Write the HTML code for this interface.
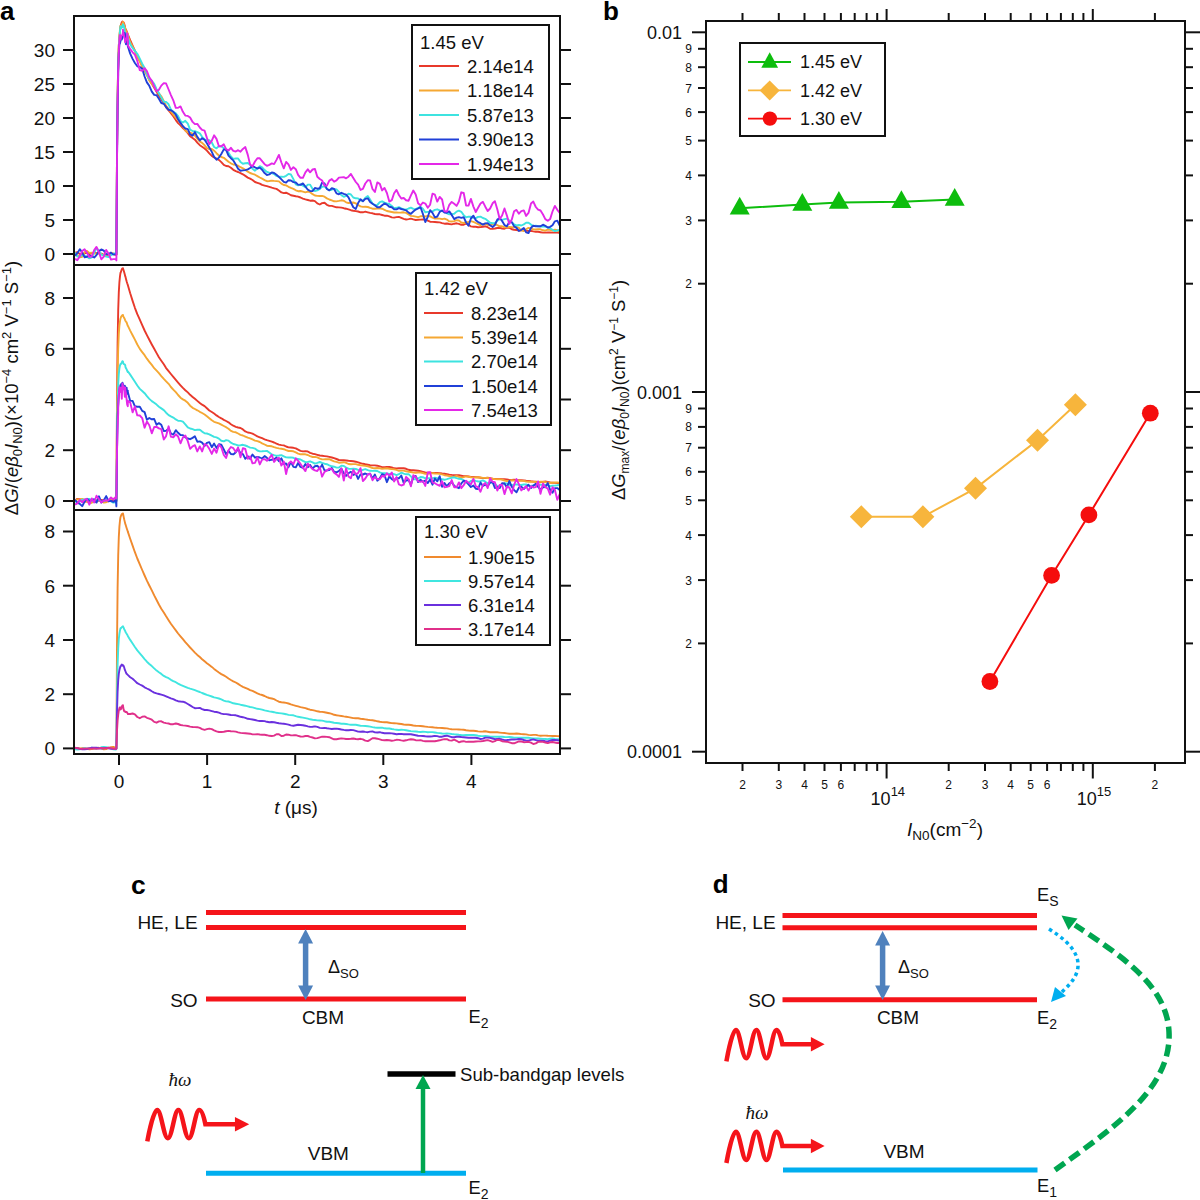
<!DOCTYPE html>
<html><head><meta charset="utf-8"><style>
html,body{margin:0;padding:0;background:#fff;width:1200px;height:1200px;overflow:hidden}
svg{display:block;font-family:"Liberation Sans", sans-serif}
</style></head><body>
<svg width="1200" height="1200" viewBox="0 0 1200 1200">
<rect width="1200" height="1200" fill="#fff"/>
<g clip-path="url(#clipA)">
<clipPath id="clipA"><rect x="75" y="17" width="484" height="735"/></clipPath>
<path d="M75.0,252.7 L77.3,252.1 L79.8,253.9 L82.2,255.1 L84.6,253.2 L87.0,252.9 L89.3,254.0 L91.8,253.2 L94.2,252.7 L96.5,253.2 L99.0,253.3 L101.3,253.7 L103.8,254.9 L106.2,255.3 L108.5,254.4 L111.0,253.4 L113.3,253.7 L115.8,255.1 L116.4,254.6 L117.0,153.7 L117.6,96.5 L118.2,64.1 L118.2,63.1 L118.8,45.5 L119.4,37.0 L120.0,31.2 L120.5,26.8 L120.6,26.2 L121.2,24.1 L121.8,22.3 L122.4,21.5 L123.0,22.2 L123.0,22.1 L123.6,22.3 L124.2,23.8 L124.8,26.0 L125.3,28.4 L125.4,28.9 L126.0,29.7 L126.6,31.1 L127.2,33.2 L127.8,34.6 L127.8,34.4 L130.2,40.2 L132.6,45.6 L134.9,50.6 L137.3,56.0 L139.8,61.1 L142.2,65.4 L144.6,69.8 L146.9,74.9 L149.3,79.7 L151.8,83.7 L154.2,87.7 L156.6,91.8 L158.9,95.8 L161.3,99.2 L163.8,103.1 L166.1,107.3 L168.6,110.3 L170.9,113.1 L173.3,116.3 L175.8,120.1 L178.1,123.1 L180.5,125.4 L182.9,128.0 L185.3,130.3 L187.8,133.1 L190.1,136.2 L192.6,138.0 L194.9,139.7 L197.3,142.7 L199.8,145.2 L202.1,146.7 L204.6,148.5 L206.9,150.6 L209.3,153.4 L211.8,155.9 L214.1,157.4 L216.5,158.6 L218.9,159.9 L221.3,162.1 L223.8,164.8 L226.1,166.0 L228.5,166.3 L230.9,167.7 L233.3,169.8 L235.8,171.1 L238.1,172.0 L240.5,173.1 L242.9,174.3 L245.3,175.9 L247.8,177.6 L250.1,178.6 L252.5,180.0 L255.0,182.0 L257.4,182.8 L259.8,183.6 L262.1,184.9 L264.6,185.6 L266.9,186.2 L269.3,186.9 L271.8,187.7 L274.1,188.3 L276.5,188.9 L278.9,190.5 L281.4,192.4 L283.8,193.1 L286.1,192.7 L288.5,193.8 L290.9,195.2 L293.4,195.7 L295.8,196.2 L298.1,196.6 L300.5,197.5 L302.9,198.6 L305.4,199.4 L307.8,200.0 L310.1,200.7 L312.6,200.5 L314.9,201.1 L317.3,203.4 L319.8,204.5 L322.1,203.1 L324.5,202.7 L326.9,204.8 L329.3,205.9 L331.8,205.9 L334.1,206.6 L336.5,207.3 L338.9,207.4 L341.4,207.6 L343.8,208.2 L346.1,208.7 L348.5,209.4 L350.9,210.2 L353.3,210.7 L355.8,211.1 L358.1,211.5 L360.5,212.3 L362.9,212.3 L365.3,211.7 L367.8,212.3 L370.1,212.9 L372.5,213.3 L374.9,214.0 L377.3,214.3 L379.8,214.3 L382.1,215.0 L384.5,215.7 L386.9,215.7 L389.3,216.4 L391.8,217.4 L394.1,217.6 L396.5,217.1 L398.9,216.9 L401.3,217.9 L403.7,218.9 L406.1,219.5 L408.6,219.1 L410.9,218.6 L413.3,219.4 L415.7,220.0 L418.1,219.8 L420.5,219.6 L422.9,219.4 L425.3,219.5 L427.8,220.6 L430.1,221.7 L432.5,221.9 L434.9,222.0 L437.3,222.2 L439.7,222.4 L442.1,223.1 L444.5,223.7 L446.9,223.5 L449.3,224.0 L451.7,224.4 L454.2,223.7 L456.6,223.3 L458.9,223.9 L461.3,224.8 L463.7,224.7 L466.1,223.7 L468.5,224.5 L470.9,226.4 L473.4,226.7 L475.8,226.8 L478.1,227.2 L480.5,227.1 L482.9,226.7 L485.3,226.3 L487.7,227.2 L490.1,228.8 L492.6,228.9 L494.9,228.5 L497.3,228.0 L499.7,227.8 L502.1,228.5 L504.5,228.7 L506.9,227.7 L509.3,227.8 L511.8,229.3 L514.1,229.8 L516.5,230.0 L518.9,230.5 L521.3,230.3 L523.8,229.9 L526.1,230.6 L528.5,231.0 L531.0,230.9 L533.3,231.4 L535.8,231.7 L538.1,231.8 L540.5,232.2 L543.0,232.6 L545.3,232.6 L547.8,232.5 L550.1,232.5 L552.5,232.6 L554.9,232.6 L557.3,232.6 L559.8,232.9" fill="none" stroke="#e8392b" stroke-width="1.9" stroke-linejoin="round"/>
<path d="M75.0,254.1 L77.3,255.1 L79.8,257.2 L82.2,256.9 L84.6,252.1 L87.0,250.9 L89.3,252.9 L91.8,252.7 L94.2,253.3 L96.5,253.9 L99.0,253.1 L101.3,254.0 L103.8,255.5 L106.2,255.2 L108.5,254.0 L111.0,253.3 L113.3,253.7 L115.8,254.5 L116.4,254.5 L117.0,154.1 L117.6,96.6 L118.2,64.4 L118.2,64.2 L118.8,46.4 L119.4,36.5 L120.0,29.2 L120.5,25.6 L120.6,28.2 L121.2,27.8 L121.8,25.6 L122.4,23.3 L123.0,22.1 L123.0,21.8 L123.6,23.3 L124.2,25.3 L124.8,27.1 L125.3,28.6 L125.4,28.7 L126.0,31.2 L126.6,32.7 L127.2,32.7 L127.8,33.6 L127.8,35.3 L130.2,42.2 L132.6,46.8 L134.9,51.2 L137.3,56.1 L139.8,61.6 L142.2,67.1 L144.6,70.6 L146.9,74.8 L149.3,80.5 L151.8,83.9 L154.2,86.7 L156.6,90.6 L158.9,93.4 L161.3,96.3 L163.8,101.1 L166.1,105.9 L168.6,109.1 L170.9,111.5 L173.3,114.6 L175.8,117.7 L178.1,120.1 L180.5,122.8 L182.9,126.6 L185.3,130.6 L187.8,132.4 L190.1,132.5 L192.6,133.6 L194.9,135.6 L197.3,138.7 L199.8,141.5 L202.1,142.9 L204.6,145.3 L206.9,148.2 L209.3,149.1 L211.8,149.0 L214.1,150.7 L216.5,153.2 L218.9,155.5 L221.3,157.0 L223.8,157.8 L226.1,159.7 L228.5,161.8 L230.9,163.3 L233.3,164.5 L235.8,164.9 L238.1,165.7 L240.5,167.2 L242.9,168.3 L245.3,169.9 L247.8,171.6 L250.1,173.0 L252.5,173.9 L255.0,174.7 L257.4,176.1 L259.8,177.5 L262.1,178.7 L264.6,180.1 L266.9,181.2 L269.3,181.0 L271.8,180.6 L274.1,180.9 L276.5,181.1 L278.9,181.4 L281.4,183.6 L283.8,185.0 L286.1,185.4 L288.5,186.8 L290.9,187.9 L293.4,188.9 L295.8,190.3 L298.1,191.2 L300.5,191.0 L302.9,191.7 L305.4,192.4 L307.8,191.6 L310.1,192.2 L312.6,194.2 L314.9,195.5 L317.3,195.9 L319.8,196.0 L322.1,195.9 L324.5,196.7 L326.9,198.4 L329.3,199.5 L331.8,200.4 L334.1,201.3 L336.5,201.4 L338.9,200.9 L341.4,200.3 L343.8,200.8 L346.1,202.3 L348.5,203.0 L350.9,202.7 L353.3,202.5 L355.8,203.4 L358.1,205.0 L360.5,206.4 L362.9,206.9 L365.3,206.7 L367.8,207.0 L370.1,207.9 L372.5,208.7 L374.9,208.7 L377.3,208.5 L379.8,208.2 L382.1,208.7 L384.5,209.8 L386.9,211.0 L389.3,211.5 L391.8,212.0 L394.1,212.5 L396.5,212.4 L398.9,212.6 L401.3,212.5 L403.7,212.3 L406.1,212.9 L408.6,214.4 L410.9,215.9 L413.3,216.1 L415.7,216.6 L418.1,217.1 L420.5,216.3 L422.9,216.3 L425.3,216.5 L427.8,216.0 L430.1,216.3 L432.5,217.6 L434.9,218.6 L437.3,218.4 L439.7,218.6 L442.1,219.2 L444.5,218.6 L446.9,219.6 L449.3,221.4 L451.7,221.5 L454.2,221.1 L456.6,220.2 L458.9,220.5 L461.3,222.5 L463.7,223.0 L466.1,222.5 L468.5,221.9 L470.9,221.2 L473.4,221.9 L475.8,223.0 L478.1,224.1 L480.5,225.2 L482.9,224.4 L485.3,223.6 L487.7,224.8 L490.1,225.4 L492.6,224.2 L494.9,223.5 L497.3,225.2 L499.7,226.3 L502.1,226.3 L504.5,227.3 L506.9,227.4 L509.3,226.9 L511.8,227.1 L514.1,227.3 L516.5,226.9 L518.9,227.9 L521.3,230.4 L523.8,231.0 L526.1,229.3 L528.5,227.9 L531.0,228.5 L533.3,229.4 L535.8,229.5 L538.1,229.2 L540.5,229.3 L543.0,230.3 L545.3,230.7 L547.8,229.6 L550.1,229.8 L552.5,230.7 L554.9,229.7 L557.3,230.2 L559.8,231.9" fill="none" stroke="#f5a833" stroke-width="1.9" stroke-linejoin="round"/>
<path d="M75.0,252.5 L77.3,256.6 L79.8,256.2 L82.2,255.1 L84.6,255.6 L87.0,256.8 L89.3,258.4 L91.8,257.3 L94.2,252.7 L96.5,248.2 L99.0,250.7 L101.3,254.7 L103.8,255.5 L106.2,256.6 L108.5,257.1 L111.0,255.3 L113.3,253.7 L115.8,253.1 L116.4,252.8 L117.0,154.6 L117.6,97.8 L118.2,64.4 L118.2,65.4 L118.8,49.7 L119.4,39.2 L120.0,30.8 L120.5,26.4 L120.6,28.9 L121.2,27.8 L121.8,26.2 L122.4,27.2 L123.0,26.5 L123.0,24.3 L123.6,25.5 L124.2,27.4 L124.8,31.1 L125.3,34.6 L125.4,32.8 L126.0,34.8 L126.6,37.4 L127.2,35.8 L127.8,35.7 L127.8,37.8 L130.2,44.2 L132.6,48.0 L134.9,50.9 L137.3,53.8 L139.8,58.7 L142.2,63.7 L144.6,68.0 L146.9,74.0 L149.3,79.0 L151.8,80.8 L154.2,83.8 L156.6,89.1 L158.9,93.3 L161.3,97.6 L163.8,101.7 L166.1,101.9 L168.6,104.3 L170.9,109.4 L173.3,111.9 L175.8,113.4 L178.1,116.2 L180.5,121.0 L182.9,122.5 L185.3,120.8 L187.8,123.7 L190.1,129.6 L192.6,131.0 L194.9,131.1 L197.3,132.1 L199.8,133.4 L202.1,136.8 L204.6,139.5 L206.9,140.3 L209.3,140.3 L211.8,142.5 L214.1,147.0 L216.5,148.3 L218.9,146.1 L221.3,146.3 L223.8,148.2 L226.1,149.6 L228.5,152.8 L230.9,156.5 L233.3,158.9 L235.8,158.5 L238.1,158.5 L240.5,161.9 L242.9,163.8 L245.3,163.3 L247.8,163.0 L250.1,164.6 L252.5,168.8 L255.0,170.7 L257.4,168.3 L259.8,166.2 L262.1,167.4 L264.6,170.1 L266.9,171.9 L269.3,172.7 L271.8,173.1 L274.1,174.0 L276.5,175.9 L278.9,176.8 L281.4,176.7 L283.8,176.9 L286.1,175.8 L288.5,173.9 L290.9,174.5 L293.4,179.1 L295.8,184.3 L298.1,185.4 L300.5,184.2 L302.9,185.6 L305.4,187.2 L307.8,184.6 L310.1,184.6 L312.6,189.0 L314.9,191.0 L317.3,190.4 L319.8,189.0 L322.1,186.7 L324.5,186.4 L326.9,188.8 L329.3,190.2 L331.8,189.7 L334.1,188.9 L336.5,189.4 L338.9,191.8 L341.4,195.2 L343.8,196.8 L346.1,195.8 L348.5,193.7 L350.9,194.5 L353.3,197.5 L355.8,198.3 L358.1,198.4 L360.5,200.3 L362.9,201.0 L365.3,197.7 L367.8,196.0 L370.1,199.6 L372.5,203.4 L374.9,205.3 L377.3,205.0 L379.8,202.2 L382.1,201.3 L384.5,202.6 L386.9,203.4 L389.3,204.0 L391.8,205.9 L394.1,208.2 L396.5,207.8 L398.9,207.2 L401.3,208.4 L403.7,209.3 L406.1,209.6 L408.6,208.5 L410.9,207.6 L413.3,208.9 L415.7,209.2 L418.1,207.9 L420.5,206.9 L422.9,208.8 L425.3,212.2 L427.8,211.9 L430.1,211.6 L432.5,211.4 L434.9,209.9 L437.3,209.3 L439.7,210.3 L442.1,211.0 L444.5,211.2 L446.9,213.4 L449.3,214.3 L451.7,214.1 L454.2,213.7 L456.6,211.6 L458.9,210.6 L461.3,211.8 L463.7,215.1 L466.1,217.4 L468.5,216.6 L470.9,216.7 L473.4,217.9 L475.8,218.1 L478.1,216.9 L480.5,216.7 L482.9,218.0 L485.3,218.8 L487.7,220.7 L490.1,222.8 L492.6,223.3 L494.9,223.1 L497.3,220.8 L499.7,219.2 L502.1,219.8 L504.5,219.2 L506.9,218.6 L509.3,220.4 L511.8,222.3 L514.1,224.5 L516.5,225.4 L518.9,225.0 L521.3,225.5 L523.8,224.4 L526.1,222.8 L528.5,222.7 L531.0,224.6 L533.3,226.1 L535.8,225.8 L538.1,226.3 L540.5,226.5 L543.0,226.2 L545.3,226.6 L547.8,227.6 L550.1,228.4 L552.5,229.8 L554.9,231.1 L557.3,230.5 L559.8,229.8" fill="none" stroke="#3de3e0" stroke-width="1.9" stroke-linejoin="round"/>
<path d="M75.0,255.8 L77.3,253.2 L79.8,249.2 L82.2,252.3 L84.6,257.3 L87.0,256.8 L89.3,255.4 L91.8,256.4 L94.2,257.5 L96.5,255.1 L99.0,251.1 L101.3,249.4 L103.8,250.6 L106.2,254.2 L108.5,254.3 L111.0,252.6 L113.3,254.6 L115.8,254.1 L116.4,254.6 L117.0,162.1 L117.6,108.0 L118.2,75.8 L118.2,73.3 L118.8,53.6 L119.4,44.5 L120.0,43.4 L120.5,41.0 L120.6,38.6 L121.2,37.4 L121.8,39.6 L122.4,37.4 L123.0,35.4 L123.0,35.9 L123.6,33.8 L124.2,32.9 L124.8,33.1 L125.3,36.2 L125.4,41.4 L126.0,44.2 L126.6,42.4 L127.2,40.2 L127.8,42.1 L127.8,46.1 L130.2,53.6 L132.6,58.9 L134.9,63.0 L137.3,66.3 L139.8,67.0 L142.2,68.6 L144.6,76.5 L146.9,82.4 L149.3,85.8 L151.8,91.6 L154.2,94.9 L156.6,95.3 L158.9,98.8 L161.3,103.0 L163.8,103.8 L166.1,107.0 L168.6,109.8 L170.9,110.2 L173.3,111.8 L175.8,114.7 L178.1,119.2 L180.5,122.9 L182.9,126.3 L185.3,128.5 L187.8,129.1 L190.1,134.3 L192.6,135.7 L194.9,132.1 L197.3,136.9 L199.8,140.4 L202.1,138.2 L204.6,139.8 L206.9,143.3 L209.3,147.4 L211.8,151.9 L214.1,156.9 L216.5,159.7 L218.9,157.6 L221.3,154.0 L223.8,149.4 L226.1,149.8 L228.5,155.6 L230.9,158.2 L233.3,160.4 L235.8,164.5 L238.1,168.7 L240.5,170.7 L242.9,170.4 L245.3,170.1 L247.8,169.4 L250.1,168.0 L252.5,166.1 L255.0,167.4 L257.4,168.5 L259.8,167.6 L262.1,169.7 L264.6,173.1 L266.9,175.0 L269.3,174.4 L271.8,172.4 L274.1,173.0 L276.5,174.8 L278.9,176.9 L281.4,179.4 L283.8,181.8 L286.1,182.6 L288.5,180.2 L290.9,180.5 L293.4,182.1 L295.8,182.5 L298.1,184.6 L300.5,184.9 L302.9,183.4 L305.4,186.5 L307.8,189.7 L310.1,191.0 L312.6,191.1 L314.9,188.0 L317.3,188.7 L319.8,188.2 L322.1,182.6 L324.5,183.3 L326.9,189.0 L329.3,190.4 L331.8,188.2 L334.1,189.0 L336.5,193.4 L338.9,194.3 L341.4,192.8 L343.8,193.8 L346.1,194.6 L348.5,197.3 L350.9,202.5 L353.3,207.2 L355.8,209.0 L358.1,203.1 L360.5,199.3 L362.9,201.2 L365.3,198.9 L367.8,198.3 L370.1,202.0 L372.5,203.7 L374.9,205.2 L377.3,207.3 L379.8,207.2 L382.1,205.3 L384.5,203.4 L386.9,204.6 L389.3,206.8 L391.8,207.3 L394.1,209.2 L396.5,209.4 L398.9,208.1 L401.3,209.0 L403.7,209.7 L406.1,210.3 L408.6,212.6 L410.9,213.8 L413.3,211.5 L415.7,209.6 L418.1,208.5 L420.5,207.2 L422.9,213.9 L425.3,222.0 L427.8,216.8 L430.1,210.2 L432.5,212.9 L434.9,217.4 L437.3,216.5 L439.7,211.9 L442.1,210.5 L444.5,212.6 L446.9,212.7 L449.3,211.4 L451.7,214.9 L454.2,219.1 L456.6,217.6 L458.9,217.2 L461.3,217.9 L463.7,217.2 L466.1,222.5 L468.5,225.8 L470.9,218.5 L473.4,215.7 L475.8,220.3 L478.1,222.1 L480.5,223.2 L482.9,224.6 L485.3,223.4 L487.7,223.1 L490.1,225.3 L492.6,227.0 L494.9,225.0 L497.3,219.6 L499.7,218.0 L502.1,221.0 L504.5,225.1 L506.9,226.3 L509.3,222.0 L511.8,222.1 L514.1,226.2 L516.5,227.9 L518.9,231.0 L521.3,229.8 L523.8,228.0 L526.1,232.3 L528.5,233.0 L531.0,227.8 L533.3,225.7 L535.8,226.2 L538.1,226.2 L540.5,226.3 L543.0,224.7 L545.3,225.8 L547.8,227.5 L550.1,226.9 L552.5,225.3 L554.9,221.3 L557.3,220.7 L559.8,225.8" fill="none" stroke="#2040d8" stroke-width="1.9" stroke-linejoin="round"/>
<path d="M75.0,258.9 L77.3,260.2 L79.8,256.3 L82.2,251.1 L84.6,249.3 L87.0,252.7 L89.3,257.0 L91.8,256.3 L94.2,250.1 L96.5,246.9 L99.0,252.4 L101.3,259.3 L103.8,256.6 L106.2,249.9 L108.5,253.5 L111.0,259.6 L113.3,259.1 L115.8,259.1 L116.4,260.5 L117.0,161.4 L117.6,103.9 L118.2,69.0 L118.2,69.8 L118.8,53.5 L119.4,39.2 L120.0,34.9 L120.5,38.7 L120.6,39.6 L121.2,36.1 L121.8,35.5 L122.4,35.2 L123.0,31.7 L123.0,29.6 L123.6,33.7 L124.2,37.3 L124.8,38.9 L125.3,42.4 L125.4,41.6 L126.0,39.4 L126.6,38.0 L127.2,33.1 L127.8,37.3 L127.8,45.3 L130.2,49.1 L132.6,52.3 L134.9,54.7 L137.3,60.9 L139.8,70.2 L142.2,70.9 L144.6,68.2 L146.9,71.2 L149.3,77.3 L151.8,80.9 L154.2,86.4 L156.6,91.3 L158.9,89.8 L161.3,85.6 L163.8,83.1 L166.1,83.5 L168.6,89.5 L170.9,95.1 L173.3,100.3 L175.8,107.9 L178.1,107.8 L180.5,106.4 L182.9,111.8 L185.3,115.6 L187.8,115.9 L190.1,117.6 L192.6,121.9 L194.9,124.1 L197.3,123.9 L199.8,127.5 L202.1,129.9 L204.6,130.7 L206.9,137.9 L209.3,144.1 L211.8,140.7 L214.1,135.3 L216.5,138.9 L218.9,146.3 L221.3,146.3 L223.8,144.3 L226.1,149.2 L228.5,150.5 L230.9,147.8 L233.3,150.9 L235.8,151.5 L238.1,150.2 L240.5,151.7 L242.9,148.9 L245.3,147.1 L247.8,154.9 L250.1,164.6 L252.5,166.2 L255.0,161.5 L257.4,158.2 L259.8,158.3 L262.1,161.1 L264.6,164.2 L266.9,165.8 L269.3,164.8 L271.8,163.4 L274.1,164.1 L276.5,159.9 L278.9,154.9 L281.4,162.5 L283.8,168.3 L286.1,162.0 L288.5,164.4 L290.9,169.9 L293.4,167.2 L295.8,169.2 L298.1,174.8 L300.5,177.8 L302.9,177.8 L305.4,172.4 L307.8,169.3 L310.1,172.3 L312.6,169.5 L314.9,168.9 L317.3,176.8 L319.8,179.0 L322.1,180.5 L324.5,185.7 L326.9,185.6 L329.3,180.6 L331.8,179.1 L334.1,181.7 L336.5,180.4 L338.9,177.6 L341.4,177.4 L343.8,177.2 L346.1,178.3 L348.5,176.7 L350.9,173.9 L353.3,177.9 L355.8,182.0 L358.1,184.7 L360.5,189.9 L362.9,188.9 L365.3,183.5 L367.8,180.2 L370.1,180.4 L372.5,189.0 L374.9,191.9 L377.3,182.4 L379.8,183.9 L382.1,190.4 L384.5,187.9 L386.9,193.0 L389.3,201.6 L391.8,200.1 L394.1,193.2 L396.5,189.9 L398.9,195.0 L401.3,198.5 L403.7,198.0 L406.1,200.2 L408.6,200.7 L410.9,195.4 L413.3,190.5 L415.7,194.5 L418.1,203.3 L420.5,205.4 L422.9,202.5 L425.3,203.6 L427.8,207.8 L430.1,204.7 L432.5,193.6 L434.9,194.7 L437.3,201.6 L439.7,196.9 L442.1,199.5 L444.5,211.4 L446.9,211.5 L449.3,204.8 L451.7,201.9 L454.2,203.7 L456.6,205.9 L458.9,201.5 L461.3,192.3 L463.7,193.0 L466.1,205.5 L468.5,205.6 L470.9,198.9 L473.4,206.6 L475.8,212.0 L478.1,207.7 L480.5,203.5 L482.9,201.9 L485.3,206.7 L487.7,211.0 L490.1,208.5 L492.6,203.3 L494.9,201.2 L497.3,209.3 L499.7,219.0 L502.1,215.5 L504.5,208.5 L506.9,215.6 L509.3,223.9 L511.8,219.6 L514.1,211.3 L516.5,209.9 L518.9,213.7 L521.3,211.1 L523.8,210.4 L526.1,215.9 L528.5,212.9 L531.0,203.5 L533.3,201.6 L535.8,207.0 L538.1,209.7 L540.5,210.5 L543.0,214.5 L545.3,219.1 L547.8,220.8 L550.1,219.1 L552.5,211.5 L554.9,205.9 L557.3,209.8 L559.8,212.9" fill="none" stroke="#e428e8" stroke-width="1.9" stroke-linejoin="round"/>
<path d="M75.0,500.3 L77.3,498.9 L79.8,499.3 L82.2,501.0 L84.6,501.8 L87.0,501.4 L89.3,500.7 L91.8,500.4 L94.2,501.2 L96.5,501.7 L99.0,500.4 L101.3,499.9 L103.8,500.4 L106.2,501.0 L108.5,501.2 L111.0,500.3 L113.3,500.0 L115.8,500.9 L116.4,501.0 L117.0,400.0 L117.6,343.2 L118.2,311.1 L118.2,310.5 L118.8,292.4 L119.4,282.3 L120.0,276.2 L120.5,272.7 L120.6,272.9 L121.2,271.0 L121.8,269.3 L122.4,268.4 L123.0,268.3 L123.0,268.5 L123.6,270.3 L124.2,272.3 L124.8,274.6 L125.3,276.6 L125.4,276.5 L126.0,279.0 L126.6,281.3 L127.2,283.2 L127.8,284.9 L127.8,285.0 L130.2,293.3 L132.6,300.9 L134.9,307.8 L137.3,314.2 L139.8,319.7 L142.2,325.2 L144.6,330.5 L146.9,335.1 L149.3,339.8 L151.8,344.5 L154.2,348.8 L156.6,353.1 L158.9,357.3 L161.3,360.7 L163.8,364.3 L166.1,368.1 L168.6,371.2 L170.9,374.0 L173.3,376.9 L175.8,379.9 L178.1,382.6 L180.5,385.3 L182.9,387.9 L185.3,390.2 L187.8,392.4 L190.1,394.8 L192.6,396.9 L194.9,398.8 L197.3,400.9 L199.8,403.0 L202.1,404.7 L204.6,406.1 L206.9,408.2 L209.3,410.5 L211.8,412.0 L214.1,413.5 L216.5,415.4 L218.9,417.0 L221.3,418.3 L223.8,419.9 L226.1,421.0 L228.5,422.3 L230.9,424.2 L233.3,425.7 L235.8,426.8 L238.1,427.5 L240.5,428.0 L242.9,429.4 L245.3,431.4 L247.8,432.5 L250.1,432.9 L252.5,433.6 L255.0,435.0 L257.4,436.4 L259.8,437.3 L262.1,438.2 L264.6,439.3 L266.9,440.2 L269.3,440.8 L271.8,441.6 L274.1,442.5 L276.5,443.6 L278.9,444.6 L281.4,445.1 L283.8,445.4 L286.1,446.5 L288.5,447.4 L290.9,447.5 L293.4,447.8 L295.8,448.4 L298.1,449.6 L300.5,450.8 L302.9,451.4 L305.4,451.1 L307.8,451.5 L310.1,452.9 L312.6,453.7 L314.9,454.1 L317.3,454.8 L319.8,455.5 L322.1,455.8 L324.5,456.1 L326.9,456.4 L329.3,456.9 L331.8,457.5 L334.1,458.2 L336.5,459.0 L338.9,460.0 L341.4,460.3 L343.8,460.2 L346.1,460.5 L348.5,460.8 L350.9,461.0 L353.3,461.2 L355.8,461.7 L358.1,462.3 L360.5,463.1 L362.9,463.8 L365.3,464.3 L367.8,464.7 L370.1,465.1 L372.5,465.4 L374.9,465.4 L377.3,465.7 L379.8,466.4 L382.1,467.1 L384.5,467.1 L386.9,466.9 L389.3,467.0 L391.8,467.5 L394.1,468.3 L396.5,468.4 L398.9,468.1 L401.3,468.2 L403.7,468.3 L406.1,468.8 L408.6,469.8 L410.9,470.2 L413.3,470.2 L415.7,470.5 L418.1,470.8 L420.5,471.2 L422.9,471.8 L425.3,472.4 L427.8,472.6 L430.1,472.7 L432.5,472.9 L434.9,473.0 L437.3,473.0 L439.7,473.1 L442.1,473.5 L444.5,473.8 L446.9,474.2 L449.3,474.6 L451.7,474.9 L454.2,475.1 L456.6,475.1 L458.9,475.3 L461.3,475.7 L463.7,476.1 L466.1,476.1 L468.5,476.5 L470.9,476.9 L473.4,477.0 L475.8,477.1 L478.1,477.3 L480.5,477.7 L482.9,478.1 L485.3,478.0 L487.7,477.7 L490.1,478.2 L492.6,478.7 L494.9,479.0 L497.3,479.0 L499.7,478.9 L502.1,479.3 L504.5,479.3 L506.9,479.5 L509.3,480.0 L511.8,479.9 L514.1,479.6 L516.5,479.9 L518.9,480.1 L521.3,480.2 L523.8,480.5 L526.1,480.8 L528.5,481.0 L531.0,481.3 L533.3,481.5 L535.8,481.6 L538.1,482.0 L540.5,482.3 L543.0,481.9 L545.3,481.5 L547.8,481.9 L550.1,482.5 L552.5,482.7 L554.9,482.9 L557.3,483.1 L559.8,483.2" fill="none" stroke="#e8392b" stroke-width="1.9" stroke-linejoin="round"/>
<path d="M75.0,500.5 L77.3,499.5 L79.8,499.3 L82.2,499.0 L84.6,499.6 L87.0,501.7 L89.3,503.0 L91.8,502.7 L94.2,501.3 L96.5,500.0 L99.0,500.2 L101.3,501.5 L103.8,502.6 L106.2,502.3 L108.5,500.9 L111.0,499.2 L113.3,498.7 L115.8,499.6 L116.4,500.7 L117.0,419.8 L117.6,374.1 L118.2,348.8 L118.2,348.8 L118.8,334.0 L119.4,325.8 L120.0,321.1 L120.5,318.4 L120.6,318.2 L121.2,316.6 L121.8,315.9 L122.4,315.2 L123.0,315.0 L123.0,315.5 L123.6,316.9 L124.2,318.0 L124.8,319.2 L125.3,320.6 L125.4,320.7 L126.0,321.6 L126.6,322.4 L127.2,324.2 L127.8,325.9 L127.8,325.7 L130.2,330.6 L132.6,335.2 L134.9,339.6 L137.3,344.5 L139.8,348.9 L142.2,352.1 L144.6,355.2 L146.9,358.7 L149.3,361.8 L151.8,364.9 L154.2,368.2 L156.6,370.7 L158.9,373.2 L161.3,376.1 L163.8,378.9 L166.1,381.3 L168.6,383.8 L170.9,387.0 L173.3,389.7 L175.8,392.2 L178.1,395.0 L180.5,397.7 L182.9,399.4 L185.3,400.7 L187.8,402.8 L190.1,405.7 L192.6,407.8 L194.9,409.0 L197.3,410.3 L199.8,411.8 L202.1,413.0 L204.6,414.5 L206.9,416.3 L209.3,418.2 L211.8,420.3 L214.1,421.8 L216.5,422.6 L218.9,423.4 L221.3,424.7 L223.8,426.0 L226.1,427.2 L228.5,428.8 L230.9,430.9 L233.3,431.9 L235.8,432.3 L238.1,433.5 L240.5,434.8 L242.9,435.5 L245.3,436.6 L247.8,437.7 L250.1,438.3 L252.5,439.4 L255.0,440.6 L257.4,441.1 L259.8,442.0 L262.1,443.3 L264.6,444.5 L266.9,445.7 L269.3,446.0 L271.8,446.3 L274.1,447.2 L276.5,447.9 L278.9,448.4 L281.4,448.8 L283.8,449.2 L286.1,450.2 L288.5,451.0 L290.9,451.0 L293.4,451.3 L295.8,452.4 L298.1,453.6 L300.5,454.3 L302.9,454.2 L305.4,454.3 L307.8,455.0 L310.1,456.2 L312.6,457.0 L314.9,456.9 L317.3,457.4 L319.8,458.7 L322.1,459.4 L324.5,459.3 L326.9,459.1 L329.3,459.2 L331.8,460.3 L334.1,461.3 L336.5,461.9 L338.9,462.7 L341.4,462.6 L343.8,462.2 L346.1,462.9 L348.5,464.0 L350.9,464.3 L353.3,464.1 L355.8,464.1 L358.1,464.8 L360.5,465.3 L362.9,465.5 L365.3,465.9 L367.8,466.4 L370.1,467.0 L372.5,468.0 L374.9,468.3 L377.3,468.0 L379.8,468.3 L382.1,468.7 L384.5,468.5 L386.9,468.3 L389.3,468.7 L391.8,469.1 L394.1,469.3 L396.5,469.9 L398.9,470.8 L401.3,470.6 L403.7,470.6 L406.1,471.3 L408.6,471.7 L410.9,472.0 L413.3,472.6 L415.7,472.8 L418.1,472.5 L420.5,472.5 L422.9,473.0 L425.3,473.8 L427.8,473.8 L430.1,473.4 L432.5,473.3 L434.9,473.5 L437.3,473.6 L439.7,473.8 L442.1,474.4 L444.5,475.2 L446.9,475.5 L449.3,476.2 L451.7,477.2 L454.2,476.6 L456.6,475.8 L458.9,476.8 L461.3,477.8 L463.7,477.1 L466.1,476.4 L468.5,476.7 L470.9,477.2 L473.4,477.5 L475.8,477.5 L478.1,477.2 L480.5,477.5 L482.9,477.9 L485.3,477.9 L487.7,478.0 L490.1,478.6 L492.6,478.8 L494.9,479.1 L497.3,479.3 L499.7,479.2 L502.1,479.6 L504.5,480.5 L506.9,481.1 L509.3,480.7 L511.8,480.2 L514.1,480.6 L516.5,480.8 L518.9,480.8 L521.3,480.7 L523.8,480.9 L526.1,481.5 L528.5,481.7 L531.0,481.6 L533.3,481.7 L535.8,482.0 L538.1,482.1 L540.5,481.7 L543.0,481.6 L545.3,482.1 L547.8,482.7 L550.1,482.7 L552.5,482.7 L554.9,482.5 L557.3,482.4 L559.8,483.0" fill="none" stroke="#f5a833" stroke-width="1.9" stroke-linejoin="round"/>
<path d="M75.0,500.7 L77.3,502.7 L79.8,501.6 L82.2,499.7 L84.6,499.4 L87.0,499.0 L89.3,498.9 L91.8,500.3 L94.2,501.2 L96.5,500.4 L99.0,500.4 L101.3,501.3 L103.8,501.1 L106.2,500.0 L108.5,500.2 L111.0,501.3 L113.3,502.6 L115.8,502.2 L116.4,500.5 L117.0,439.7 L117.6,405.4 L118.2,385.7 L118.2,384.9 L118.8,374.1 L119.4,368.5 L120.0,365.4 L120.5,364.0 L120.6,364.3 L121.2,363.6 L121.8,362.4 L122.4,361.2 L123.0,361.5 L123.0,362.4 L123.6,363.9 L124.2,364.3 L124.8,364.4 L125.3,365.5 L125.4,366.8 L126.0,368.3 L126.6,369.2 L127.2,370.8 L127.8,372.0 L127.8,371.3 L130.2,374.6 L132.6,378.2 L134.9,381.8 L137.3,385.5 L139.8,388.9 L142.2,391.0 L144.6,393.2 L146.9,396.2 L149.3,398.9 L151.8,401.1 L154.2,402.8 L156.6,404.6 L158.9,406.7 L161.3,408.4 L163.8,410.1 L166.1,412.7 L168.6,415.1 L170.9,416.4 L173.3,417.6 L175.8,419.4 L178.1,420.8 L180.5,420.9 L182.9,421.6 L185.3,424.3 L187.8,427.4 L190.1,428.5 L192.6,429.2 L194.9,430.1 L197.3,429.8 L199.8,429.7 L202.1,431.6 L204.6,433.2 L206.9,433.5 L209.3,434.3 L211.8,435.7 L214.1,436.9 L216.5,437.4 L218.9,438.6 L221.3,440.8 L223.8,441.3 L226.1,440.1 L228.5,440.6 L230.9,442.7 L233.3,444.0 L235.8,444.7 L238.1,445.5 L240.5,445.3 L242.9,444.8 L245.3,445.5 L247.8,446.5 L250.1,447.6 L252.5,447.9 L255.0,448.6 L257.4,450.5 L259.8,451.4 L262.1,451.3 L264.6,451.1 L266.9,450.9 L269.3,452.5 L271.8,454.5 L274.1,455.2 L276.5,455.8 L278.9,455.5 L281.4,455.1 L283.8,456.3 L286.1,457.4 L288.5,457.5 L290.9,457.4 L293.4,457.8 L295.8,458.8 L298.1,459.0 L300.5,459.5 L302.9,460.9 L305.4,462.2 L307.8,461.9 L310.1,461.3 L312.6,462.4 L314.9,463.7 L317.3,462.9 L319.8,462.0 L322.1,462.9 L324.5,463.7 L326.9,464.2 L329.3,465.3 L331.8,466.3 L334.1,466.7 L336.5,467.6 L338.9,467.6 L341.4,465.8 L343.8,465.9 L346.1,467.6 L348.5,468.7 L350.9,468.9 L353.3,468.7 L355.8,469.0 L358.1,469.9 L360.5,470.7 L362.9,469.9 L365.3,469.2 L367.8,470.2 L370.1,470.8 L372.5,470.9 L374.9,470.7 L377.3,471.0 L379.8,472.3 L382.1,473.1 L384.5,473.1 L386.9,473.5 L389.3,474.0 L391.8,473.7 L394.1,474.1 L396.5,475.1 L398.9,474.1 L401.3,472.7 L403.7,473.6 L406.1,474.3 L408.6,474.1 L410.9,476.4 L413.3,479.0 L415.7,479.4 L418.1,478.5 L420.5,477.0 L422.9,477.2 L425.3,478.3 L427.8,478.1 L430.1,478.3 L432.5,478.2 L434.9,477.8 L437.3,478.1 L439.7,478.6 L442.1,479.3 L444.5,479.8 L446.9,479.2 L449.3,478.4 L451.7,477.8 L454.2,477.3 L456.6,478.2 L458.9,478.8 L461.3,479.0 L463.7,480.4 L466.1,482.5 L468.5,482.7 L470.9,480.9 L473.4,480.2 L475.8,480.9 L478.1,481.5 L480.5,481.1 L482.9,480.4 L485.3,481.7 L487.7,483.2 L490.1,482.7 L492.6,482.2 L494.9,484.1 L497.3,486.1 L499.7,486.2 L502.1,484.8 L504.5,483.3 L506.9,483.5 L509.3,484.7 L511.8,485.1 L514.1,484.6 L516.5,484.4 L518.9,484.8 L521.3,485.0 L523.8,484.5 L526.1,484.4 L528.5,485.7 L531.0,486.0 L533.3,485.4 L535.8,485.0 L538.1,485.0 L540.5,484.9 L543.0,484.8 L545.3,484.8 L547.8,485.4 L550.1,486.1 L552.5,485.7 L554.9,485.6 L557.3,485.3 L559.8,484.9" fill="none" stroke="#3de3e0" stroke-width="1.9" stroke-linejoin="round"/>
<path d="M75.0,499.8 L77.3,502.7 L79.8,503.8 L82.2,506.2 L84.6,501.6 L87.0,498.8 L89.3,500.9 L91.8,500.1 L94.2,499.2 L96.5,502.6 L99.0,496.3 L101.3,502.6 L103.8,500.3 L106.2,496.1 L108.5,501.2 L111.0,500.8 L113.3,501.9 L115.8,500.4 L116.4,506.4 L117.0,452.1 L117.6,417.5 L118.2,405.1 L118.2,406.1 L118.8,395.3 L119.4,390.0 L120.0,387.7 L120.5,385.0 L120.6,390.6 L121.2,384.0 L121.8,386.6 L122.4,382.6 L123.0,384.5 L123.0,387.0 L123.6,385.9 L124.2,389.5 L124.8,385.7 L125.3,389.5 L125.4,387.3 L126.0,393.5 L126.6,387.7 L127.2,393.7 L127.8,390.6 L127.8,391.9 L130.2,400.9 L132.6,400.9 L134.9,406.3 L137.3,406.7 L139.8,406.7 L142.2,410.9 L144.6,412.1 L146.9,419.7 L149.3,418.0 L151.8,419.3 L154.2,419.0 L156.6,424.8 L158.9,423.1 L161.3,424.8 L163.8,431.0 L166.1,430.9 L168.6,428.3 L170.9,433.5 L173.3,434.6 L175.8,430.2 L178.1,432.8 L180.5,435.0 L182.9,435.1 L185.3,437.3 L187.8,438.5 L190.1,439.2 L192.6,437.9 L194.9,436.3 L197.3,441.7 L199.8,441.4 L202.1,442.6 L204.6,446.0 L206.9,442.9 L209.3,442.1 L211.8,447.2 L214.1,443.6 L216.5,447.9 L218.9,444.2 L221.3,444.7 L223.8,449.5 L226.1,454.2 L228.5,450.7 L230.9,454.0 L233.3,454.4 L235.8,452.3 L238.1,448.9 L240.5,453.2 L242.9,454.1 L245.3,458.8 L247.8,456.2 L250.1,458.8 L252.5,454.5 L255.0,457.7 L257.4,457.0 L259.8,457.5 L262.1,458.5 L264.6,456.1 L266.9,457.8 L269.3,460.4 L271.8,459.7 L274.1,459.2 L276.5,457.6 L278.9,461.2 L281.4,458.3 L283.8,464.0 L286.1,463.5 L288.5,467.2 L290.9,461.8 L293.4,466.9 L295.8,467.4 L298.1,463.0 L300.5,466.9 L302.9,467.9 L305.4,464.0 L307.8,467.3 L310.1,464.9 L312.6,468.7 L314.9,466.2 L317.3,465.7 L319.8,468.6 L322.1,464.6 L324.5,470.5 L326.9,470.4 L329.3,470.1 L331.8,468.1 L334.1,471.7 L336.5,472.4 L338.9,471.0 L341.4,468.8 L343.8,473.4 L346.1,475.9 L348.5,473.3 L350.9,471.7 L353.3,475.0 L355.8,473.6 L358.1,478.9 L360.5,474.4 L362.9,474.5 L365.3,473.5 L367.8,474.6 L370.1,473.7 L372.5,478.5 L374.9,474.5 L377.3,480.7 L379.8,478.3 L382.1,474.2 L384.5,475.1 L386.9,482.2 L389.3,476.3 L391.8,479.1 L394.1,480.3 L396.5,478.0 L398.9,478.4 L401.3,475.5 L403.7,482.9 L406.1,480.5 L408.6,480.0 L410.9,484.6 L413.3,477.1 L415.7,475.9 L418.1,482.1 L420.5,479.8 L422.9,481.7 L425.3,480.5 L427.8,483.1 L430.1,479.5 L432.5,484.7 L434.9,478.5 L437.3,481.3 L439.7,476.2 L442.1,486.7 L444.5,483.0 L446.9,486.2 L449.3,483.4 L451.7,482.1 L454.2,485.8 L456.6,487.2 L458.9,488.2 L461.3,483.4 L463.7,480.8 L466.1,481.3 L468.5,484.3 L470.9,487.0 L473.4,485.6 L475.8,488.7 L478.1,489.0 L480.5,482.5 L482.9,486.0 L485.3,484.7 L487.7,486.3 L490.1,482.4 L492.6,482.2 L494.9,488.0 L497.3,487.1 L499.7,488.0 L502.1,483.1 L504.5,483.4 L506.9,487.4 L509.3,481.0 L511.8,486.8 L514.1,490.1 L516.5,492.3 L518.9,487.6 L521.3,486.6 L523.8,489.0 L526.1,486.7 L528.5,484.7 L531.0,488.0 L533.3,485.8 L535.8,483.8 L538.1,486.9 L540.5,489.7 L543.0,487.3 L545.3,487.1 L547.8,483.1 L550.1,489.8 L552.5,492.7 L554.9,488.1 L557.3,488.1 L559.8,490.1" fill="none" stroke="#2040d8" stroke-width="1.9" stroke-linejoin="round"/>
<path d="M75.0,504.6 L77.3,503.4 L79.8,500.0 L82.2,502.3 L84.6,499.7 L87.0,499.0 L89.3,504.7 L91.8,498.4 L94.2,502.5 L96.5,495.7 L99.0,499.2 L101.3,502.4 L103.8,500.5 L106.2,500.5 L108.5,500.2 L111.0,497.5 L113.3,499.6 L115.8,496.8 L116.4,498.6 L117.0,451.8 L117.6,428.6 L118.2,412.9 L118.2,406.0 L118.8,395.1 L119.4,387.1 L120.0,392.0 L120.5,387.7 L120.6,391.1 L121.2,388.6 L121.8,398.8 L122.4,383.4 L123.0,388.8 L123.0,386.3 L123.6,386.3 L124.2,388.7 L124.8,396.8 L125.3,387.8 L125.4,390.7 L126.0,393.4 L126.6,399.5 L127.2,404.6 L127.8,406.2 L127.8,400.8 L130.2,402.4 L132.6,412.4 L134.9,406.5 L137.3,415.4 L139.8,415.5 L142.2,418.1 L144.6,427.7 L146.9,421.6 L149.3,425.3 L151.8,433.3 L154.2,427.0 L156.6,426.9 L158.9,428.4 L161.3,429.2 L163.8,439.5 L166.1,436.1 L168.6,426.3 L170.9,436.7 L173.3,437.3 L175.8,434.3 L178.1,436.5 L180.5,443.3 L182.9,437.5 L185.3,435.5 L187.8,441.2 L190.1,448.8 L192.6,446.3 L194.9,445.2 L197.3,451.4 L199.8,446.4 L202.1,451.4 L204.6,444.2 L206.9,445.2 L209.3,448.8 L211.8,453.9 L214.1,448.6 L216.5,452.7 L218.9,444.7 L221.3,447.3 L223.8,455.0 L226.1,457.9 L228.5,450.2 L230.9,447.0 L233.3,448.2 L235.8,451.9 L238.1,447.5 L240.5,457.3 L242.9,448.2 L245.3,449.0 L247.8,458.8 L250.1,456.4 L252.5,463.4 L255.0,462.9 L257.4,457.3 L259.8,464.4 L262.1,459.6 L264.6,459.1 L266.9,460.8 L269.3,458.1 L271.8,454.8 L274.1,461.9 L276.5,459.2 L278.9,457.8 L281.4,465.6 L283.8,461.5 L286.1,474.0 L288.5,463.5 L290.9,461.5 L293.4,464.2 L295.8,458.3 L298.1,460.8 L300.5,463.9 L302.9,467.6 L305.4,471.1 L307.8,463.6 L310.1,466.6 L312.6,469.1 L314.9,470.4 L317.3,471.0 L319.8,467.2 L322.1,476.7 L324.5,471.8 L326.9,470.6 L329.3,468.6 L331.8,468.9 L334.1,472.7 L336.5,474.4 L338.9,476.9 L341.4,468.3 L343.8,480.5 L346.1,468.4 L348.5,476.4 L350.9,478.2 L353.3,469.8 L355.8,474.5 L358.1,473.0 L360.5,468.2 L362.9,481.1 L365.3,478.5 L367.8,474.4 L370.1,473.7 L372.5,480.3 L374.9,476.9 L377.3,479.1 L379.8,479.3 L382.1,475.9 L384.5,476.8 L386.9,473.3 L389.3,475.7 L391.8,472.6 L394.1,481.6 L396.5,477.1 L398.9,484.4 L401.3,485.5 L403.7,484.7 L406.1,476.9 L408.6,479.1 L410.9,486.3 L413.3,475.3 L415.7,476.8 L418.1,481.4 L420.5,481.8 L422.9,481.1 L425.3,485.9 L427.8,472.5 L430.1,472.3 L432.5,482.6 L434.9,483.2 L437.3,484.7 L439.7,485.8 L442.1,481.3 L444.5,487.4 L446.9,486.9 L449.3,486.1 L451.7,480.1 L454.2,487.2 L456.6,487.3 L458.9,482.4 L461.3,488.2 L463.7,485.2 L466.1,480.8 L468.5,482.7 L470.9,484.3 L473.4,478.8 L475.8,486.3 L478.1,487.2 L480.5,491.7 L482.9,485.0 L485.3,482.9 L487.7,488.0 L490.1,478.4 L492.6,481.8 L494.9,482.3 L497.3,490.5 L499.7,485.0 L502.1,484.8 L504.5,494.1 L506.9,486.5 L509.3,487.5 L511.8,493.3 L514.1,484.9 L516.5,479.1 L518.9,484.2 L521.3,490.4 L523.8,488.2 L526.1,486.2 L528.5,490.6 L531.0,486.2 L533.3,487.5 L535.8,487.1 L538.1,481.5 L540.5,493.8 L543.0,483.6 L545.3,487.1 L547.8,488.6 L550.1,494.7 L552.5,487.2 L554.9,490.1 L557.3,499.8 L559.8,493.9" fill="none" stroke="#e428e8" stroke-width="1.9" stroke-linejoin="round"/>
<path d="M75.0,747.9 L77.3,748.0 L79.8,748.5 L82.2,748.1 L84.6,748.2 L87.0,748.9 L89.3,749.2 L91.8,749.1 L94.2,748.6 L96.5,748.0 L99.0,747.8 L101.3,748.4 L103.8,749.4 L106.2,749.1 L108.5,747.8 L111.0,747.1 L113.3,747.0 L115.8,747.6 L116.4,748.4 L117.0,646.2 L117.6,588.3 L118.2,556.0 L118.2,555.9 L118.8,537.2 L119.4,526.6 L120.0,520.5 L120.5,517.0 L120.6,517.0 L121.2,515.3 L121.8,514.2 L122.4,513.6 L123.0,513.5 L123.0,513.5 L123.6,516.6 L124.2,519.4 L124.8,521.9 L125.3,524.0 L125.4,524.1 L126.0,526.1 L126.6,528.0 L127.2,529.8 L127.8,531.5 L127.8,531.6 L130.2,538.7 L132.6,545.6 L134.9,552.2 L137.3,558.5 L139.8,564.3 L142.2,570.0 L144.6,575.5 L146.9,580.7 L149.3,585.5 L151.8,590.4 L154.2,595.4 L156.6,600.0 L158.9,604.5 L161.3,608.7 L163.8,612.5 L166.1,616.3 L168.6,620.2 L170.9,623.7 L173.3,627.0 L175.8,630.4 L178.1,633.5 L180.5,636.3 L182.9,639.1 L185.3,642.1 L187.8,644.9 L190.1,647.5 L192.6,650.1 L194.9,652.6 L197.3,654.9 L199.8,657.0 L202.1,659.2 L204.6,661.3 L206.9,663.2 L209.3,665.0 L211.8,666.9 L214.1,668.9 L216.5,670.8 L218.9,672.5 L221.3,674.1 L223.8,675.4 L226.1,676.8 L228.5,678.5 L230.9,680.0 L233.3,681.3 L235.8,682.5 L238.1,683.9 L240.5,685.5 L242.9,686.8 L245.3,687.8 L247.8,688.9 L250.1,690.1 L252.5,690.9 L255.0,692.1 L257.4,693.3 L259.8,694.3 L262.1,695.0 L264.6,696.0 L266.9,697.1 L269.3,698.0 L271.8,698.5 L274.1,699.2 L276.5,700.5 L278.9,701.7 L281.4,702.2 L283.8,702.5 L286.1,702.9 L288.5,703.5 L290.9,704.4 L293.4,705.2 L295.8,705.8 L298.1,706.4 L300.5,707.1 L302.9,707.6 L305.4,708.2 L307.8,709.0 L310.1,709.7 L312.6,710.1 L314.9,710.6 L317.3,711.3 L319.8,711.7 L322.1,711.9 L324.5,712.2 L326.9,712.7 L329.3,713.2 L331.8,713.8 L334.1,714.8 L336.5,715.3 L338.9,715.6 L341.4,716.0 L343.8,716.4 L346.1,716.7 L348.5,717.1 L350.9,717.6 L353.3,718.1 L355.8,718.3 L358.1,718.3 L360.5,718.7 L362.9,719.0 L365.3,719.4 L367.8,719.8 L370.1,720.1 L372.5,720.3 L374.9,720.7 L377.3,721.3 L379.8,721.8 L382.1,722.1 L384.5,722.2 L386.9,722.3 L389.3,722.7 L391.8,723.1 L394.1,723.2 L396.5,723.4 L398.9,723.7 L401.3,724.0 L403.7,724.5 L406.1,724.7 L408.6,724.7 L410.9,725.0 L413.3,725.5 L415.7,725.8 L418.1,725.9 L420.5,726.0 L422.9,726.3 L425.3,726.6 L427.8,726.9 L430.1,727.1 L432.5,727.3 L434.9,727.6 L437.3,727.8 L439.7,727.9 L442.1,728.0 L444.5,728.2 L446.9,728.4 L449.3,728.9 L451.7,729.3 L454.2,729.4 L456.6,729.4 L458.9,729.5 L461.3,729.6 L463.7,729.8 L466.1,730.2 L468.5,730.5 L470.9,730.7 L473.4,730.7 L475.8,731.0 L478.1,731.4 L480.5,731.6 L482.9,731.5 L485.3,731.3 L487.7,731.7 L490.1,732.2 L492.6,732.3 L494.9,732.2 L497.3,732.3 L499.7,732.6 L502.1,732.9 L504.5,733.0 L506.9,733.4 L509.3,733.8 L511.8,733.8 L514.1,733.7 L516.5,733.5 L518.9,733.7 L521.3,734.1 L523.8,734.2 L526.1,734.4 L528.5,734.9 L531.0,735.1 L533.3,734.9 L535.8,734.9 L538.1,735.4 L540.5,735.7 L543.0,735.6 L545.3,735.6 L547.8,735.8 L550.1,735.9 L552.5,736.0 L554.9,735.9 L557.3,736.1 L559.8,736.3" fill="none" stroke="#f08a2e" stroke-width="1.9" stroke-linejoin="round"/>
<path d="M75.0,749.3 L77.3,749.5 L79.8,749.4 L82.2,748.6 L84.6,748.3 L87.0,748.6 L89.3,748.1 L91.8,747.7 L94.2,748.4 L96.5,748.7 L99.0,748.1 L101.3,747.3 L103.8,747.0 L106.2,747.2 L108.5,747.6 L111.0,748.4 L113.3,749.3 L115.8,749.6 L116.4,748.9 L117.0,695.7 L117.6,665.7 L118.2,648.9 L118.2,648.6 L118.8,639.0 L119.4,633.8 L120.0,630.4 L120.5,628.3 L120.6,628.5 L121.2,628.0 L121.8,627.2 L122.4,626.6 L123.0,626.4 L123.0,626.3 L123.6,627.6 L124.2,629.2 L124.8,630.2 L125.3,631.4 L125.4,631.7 L126.0,632.8 L126.6,633.7 L127.2,634.7 L127.8,635.9 L127.8,636.0 L130.2,639.9 L132.6,643.5 L134.9,647.0 L137.3,650.4 L139.8,653.3 L142.2,656.2 L144.6,659.1 L146.9,661.7 L149.3,664.0 L151.8,666.1 L154.2,668.4 L156.6,670.6 L158.9,672.3 L161.3,673.9 L163.8,675.9 L166.1,677.2 L168.6,678.2 L170.9,679.8 L173.3,681.1 L175.8,682.2 L178.1,683.6 L180.5,684.9 L182.9,685.9 L185.3,686.9 L187.8,687.9 L190.1,688.6 L192.6,689.3 L194.9,690.2 L197.3,691.1 L199.8,692.0 L202.1,693.0 L204.6,694.0 L206.9,694.9 L209.3,695.7 L211.8,696.5 L214.1,697.4 L216.5,697.9 L218.9,698.5 L221.3,699.4 L223.8,700.6 L226.1,701.4 L228.5,701.5 L230.9,702.3 L233.3,703.3 L235.8,703.7 L238.1,704.1 L240.5,704.7 L242.9,705.2 L245.3,705.7 L247.8,706.3 L250.1,707.0 L252.5,707.4 L255.0,708.1 L257.4,708.8 L259.8,709.1 L262.1,709.6 L264.6,710.4 L266.9,710.9 L269.3,711.4 L271.8,711.8 L274.1,712.2 L276.5,712.8 L278.9,713.1 L281.4,713.4 L283.8,713.8 L286.1,714.2 L288.5,714.9 L290.9,715.1 L293.4,715.3 L295.8,716.1 L298.1,716.8 L300.5,717.2 L302.9,717.6 L305.4,718.1 L307.8,718.7 L310.1,719.3 L312.6,719.7 L314.9,720.0 L317.3,720.4 L319.8,720.5 L322.1,720.6 L324.5,721.2 L326.9,721.7 L329.3,721.8 L331.8,722.2 L334.1,722.7 L336.5,723.0 L338.9,723.3 L341.4,723.7 L343.8,723.8 L346.1,724.0 L348.5,724.4 L350.9,724.7 L353.3,724.8 L355.8,724.8 L358.1,725.2 L360.5,725.7 L362.9,725.9 L365.3,726.0 L367.8,726.2 L370.1,726.6 L372.5,727.1 L374.9,727.5 L377.3,727.7 L379.8,727.7 L382.1,727.7 L384.5,728.3 L386.9,728.5 L389.3,728.5 L391.8,729.0 L394.1,729.4 L396.5,729.7 L398.9,730.0 L401.3,729.8 L403.7,729.9 L406.1,730.3 L408.6,730.7 L410.9,731.1 L413.3,731.4 L415.7,731.5 L418.1,731.8 L420.5,732.0 L422.9,731.8 L425.3,731.9 L427.8,732.2 L430.1,732.1 L432.5,732.1 L434.9,732.5 L437.3,732.9 L439.7,733.1 L442.1,733.5 L444.5,733.6 L446.9,733.5 L449.3,733.6 L451.7,734.0 L454.2,734.3 L456.6,734.5 L458.9,734.8 L461.3,735.0 L463.7,735.1 L466.1,734.9 L468.5,735.0 L470.9,735.0 L473.4,735.0 L475.8,735.3 L478.1,735.7 L480.5,736.0 L482.9,736.1 L485.3,735.9 L487.7,736.3 L490.1,736.8 L492.6,736.8 L494.9,736.7 L497.3,736.7 L499.7,736.7 L502.1,736.8 L504.5,737.0 L506.9,737.1 L509.3,737.0 L511.8,737.3 L514.1,737.6 L516.5,737.6 L518.9,737.7 L521.3,737.8 L523.8,737.7 L526.1,737.7 L528.5,737.8 L531.0,738.1 L533.3,738.4 L535.8,738.4 L538.1,738.5 L540.5,738.7 L543.0,738.9 L545.3,739.0 L547.8,739.1 L550.1,738.8 L552.5,738.5 L554.9,738.9 L557.3,739.1 L559.8,739.2" fill="none" stroke="#40e6e0" stroke-width="1.9" stroke-linejoin="round"/>
<path d="M75.0,748.1 L77.3,748.2 L79.8,748.9 L82.2,749.3 L84.6,749.2 L87.0,749.0 L89.3,748.3 L91.8,747.7 L94.2,747.7 L96.5,747.8 L99.0,748.2 L101.3,748.6 L103.8,748.3 L106.2,747.9 L108.5,748.4 L111.0,748.8 L113.3,748.9 L115.8,748.9 L116.4,748.6 L117.0,712.3 L117.6,691.9 L118.2,680.5 L118.2,680.4 L118.8,673.8 L119.4,670.2 L120.0,667.7 L120.5,666.1 L120.6,666.5 L121.2,665.4 L121.8,664.6 L122.4,665.3 L123.0,665.9 L123.0,665.2 L123.6,665.9 L124.2,667.5 L124.8,669.7 L125.3,671.0 L125.4,671.0 L126.0,672.7 L126.6,673.7 L127.2,674.2 L127.8,675.0 L127.8,674.9 L130.2,677.2 L132.6,678.8 L134.9,680.9 L137.3,683.2 L139.8,684.5 L142.2,685.6 L144.6,687.3 L146.9,688.5 L149.3,689.6 L151.8,691.2 L154.2,692.6 L156.6,693.4 L158.9,694.0 L161.3,694.7 L163.8,695.4 L166.1,696.3 L168.6,697.4 L170.9,698.3 L173.3,699.1 L175.8,700.3 L178.1,701.2 L180.5,701.5 L182.9,701.7 L185.3,702.5 L187.8,704.0 L190.1,705.4 L192.6,707.0 L194.9,708.2 L197.3,708.1 L199.8,707.9 L202.1,709.1 L204.6,710.0 L206.9,710.0 L209.3,710.4 L211.8,711.1 L214.1,711.7 L216.5,712.0 L218.9,712.7 L221.3,713.6 L223.8,714.1 L226.1,714.1 L228.5,714.5 L230.9,715.0 L233.3,715.1 L235.8,715.3 L238.1,716.0 L240.5,716.8 L242.9,717.2 L245.3,717.8 L247.8,718.8 L250.1,719.1 L252.5,719.5 L255.0,720.0 L257.4,720.6 L259.8,721.0 L262.1,721.0 L264.6,721.1 L266.9,721.8 L269.3,722.2 L271.8,722.0 L274.1,722.3 L276.5,722.8 L278.9,723.2 L281.4,723.5 L283.8,723.7 L286.1,724.1 L288.5,724.6 L290.9,725.4 L293.4,725.8 L295.8,725.3 L298.1,724.8 L300.5,725.0 L302.9,725.2 L305.4,725.7 L307.8,726.4 L310.1,726.9 L312.6,726.8 L314.9,726.4 L317.3,726.9 L319.8,727.9 L322.1,728.1 L324.5,727.9 L326.9,728.3 L329.3,728.6 L331.8,729.0 L334.1,728.8 L336.5,728.6 L338.9,729.0 L341.4,729.5 L343.8,729.9 L346.1,730.2 L348.5,730.2 L350.9,730.0 L353.3,730.1 L355.8,730.8 L358.1,731.6 L360.5,731.7 L362.9,731.5 L365.3,731.9 L367.8,732.2 L370.1,731.6 L372.5,731.4 L374.9,732.4 L377.3,732.5 L379.8,732.2 L382.1,732.8 L384.5,733.3 L386.9,733.1 L389.3,733.2 L391.8,733.4 L394.1,733.8 L396.5,734.2 L398.9,734.0 L401.3,733.9 L403.7,734.2 L406.1,734.3 L408.6,734.3 L410.9,734.3 L413.3,734.8 L415.7,735.3 L418.1,735.8 L420.5,735.9 L422.9,736.0 L425.3,736.3 L427.8,736.5 L430.1,736.5 L432.5,736.3 L434.9,735.9 L437.3,736.1 L439.7,736.8 L442.1,736.7 L444.5,736.0 L446.9,735.7 L449.3,736.3 L451.7,737.2 L454.2,737.3 L456.6,736.8 L458.9,736.7 L461.3,737.0 L463.7,737.2 L466.1,737.5 L468.5,737.8 L470.9,737.7 L473.4,737.6 L475.8,737.7 L478.1,738.2 L480.5,739.0 L482.9,738.6 L485.3,737.6 L487.7,737.6 L490.1,737.8 L492.6,738.5 L494.9,739.2 L497.3,738.9 L499.7,738.8 L502.1,739.5 L504.5,740.1 L506.9,740.0 L509.3,739.8 L511.8,739.5 L514.1,739.5 L516.5,739.4 L518.9,739.0 L521.3,739.2 L523.8,740.0 L526.1,740.6 L528.5,740.6 L531.0,739.9 L533.3,739.4 L535.8,740.1 L538.1,740.7 L540.5,740.6 L543.0,740.8 L545.3,741.2 L547.8,741.4 L550.1,740.7 L552.5,740.0 L554.9,739.9 L557.3,740.2 L559.8,740.7" fill="none" stroke="#6a30de" stroke-width="1.9" stroke-linejoin="round"/>
<path d="M75.0,747.7 L77.3,748.2 L79.8,748.9 L82.2,748.8 L84.6,748.6 L87.0,748.4 L89.3,748.5 L91.8,748.6 L94.2,748.5 L96.5,748.7 L99.0,748.5 L101.3,747.9 L103.8,748.1 L106.2,748.2 L108.5,747.7 L111.0,748.1 L113.3,748.7 L115.8,748.8 L116.4,748.8 L117.0,730.8 L117.6,720.7 L118.2,715.0 L118.2,714.9 L118.8,710.7 L119.4,708.1 L120.0,707.3 L120.5,708.2 L120.6,709.5 L121.2,708.8 L121.8,706.9 L122.4,705.4 L123.0,705.3 L123.0,706.0 L123.6,709.4 L124.2,711.3 L124.8,711.4 L125.3,711.4 L125.4,712.0 L126.0,712.1 L126.6,711.9 L127.2,712.8 L127.8,713.8 L127.8,714.0 L130.2,714.0 L132.6,713.5 L134.9,714.4 L137.3,717.0 L139.8,718.2 L142.2,716.8 L144.6,716.4 L146.9,717.8 L149.3,718.6 L151.8,719.7 L154.2,721.9 L156.6,722.7 L158.9,721.4 L161.3,721.3 L163.8,722.6 L166.1,723.1 L168.6,723.5 L170.9,724.3 L173.3,724.2 L175.8,723.5 L178.1,724.0 L180.5,725.0 L182.9,725.4 L185.3,725.6 L187.8,726.0 L190.1,726.6 L192.6,727.0 L194.9,727.1 L197.3,727.2 L199.8,727.9 L202.1,729.1 L204.6,729.8 L206.9,729.2 L209.3,728.6 L211.8,729.2 L214.1,730.4 L216.5,731.4 L218.9,732.0 L221.3,732.0 L223.8,731.7 L226.1,731.2 L228.5,730.9 L230.9,731.3 L233.3,731.4 L235.8,731.6 L238.1,732.3 L240.5,732.9 L242.9,733.1 L245.3,733.3 L247.8,733.5 L250.1,733.7 L252.5,734.4 L255.0,734.4 L257.4,734.1 L259.8,734.5 L262.1,734.8 L264.6,734.7 L266.9,735.2 L269.3,735.8 L271.8,736.0 L274.1,735.6 L276.5,734.2 L278.9,734.3 L281.4,736.1 L283.8,735.7 L286.1,734.5 L288.5,734.7 L290.9,735.4 L293.4,735.3 L295.8,735.1 L298.1,735.8 L300.5,736.5 L302.9,736.6 L305.4,736.0 L307.8,736.0 L310.1,736.8 L312.6,737.5 L314.9,738.4 L317.3,738.1 L319.8,737.3 L322.1,736.7 L324.5,736.6 L326.9,736.9 L329.3,737.2 L331.8,738.3 L334.1,739.3 L336.5,739.2 L338.9,738.8 L341.4,738.4 L343.8,738.6 L346.1,739.0 L348.5,739.0 L350.9,738.8 L353.3,738.5 L355.8,739.0 L358.1,739.2 L360.5,738.8 L362.9,739.4 L365.3,740.6 L367.8,741.1 L370.1,739.8 L372.5,738.3 L374.9,738.2 L377.3,738.7 L379.8,739.4 L382.1,740.1 L384.5,740.3 L386.9,740.0 L389.3,740.2 L391.8,740.7 L394.1,740.4 L396.5,739.8 L398.9,739.9 L401.3,740.4 L403.7,740.7 L406.1,740.3 L408.6,739.6 L410.9,739.3 L413.3,739.5 L415.7,740.2 L418.1,740.4 L420.5,740.2 L422.9,740.9 L425.3,741.2 L427.8,741.1 L430.1,741.3 L432.5,741.3 L434.9,741.2 L437.3,740.8 L439.7,740.3 L442.1,739.6 L444.5,739.1 L446.9,739.2 L449.3,740.4 L451.7,740.6 L454.2,739.6 L456.6,740.8 L458.9,742.3 L461.3,741.5 L463.7,741.2 L466.1,741.9 L468.5,741.8 L470.9,741.7 L473.4,741.7 L475.8,741.5 L478.1,741.4 L480.5,741.4 L482.9,741.0 L485.3,740.5 L487.7,740.1 L490.1,740.9 L492.6,741.9 L494.9,741.2 L497.3,739.8 L499.7,740.1 L502.1,741.2 L504.5,741.5 L506.9,741.7 L509.3,742.4 L511.8,743.2 L514.1,743.3 L516.5,742.3 L518.9,741.4 L521.3,741.5 L523.8,742.2 L526.1,742.1 L528.5,741.8 L531.0,742.7 L533.3,744.0 L535.8,743.4 L538.1,741.9 L540.5,741.7 L543.0,741.9 L545.3,742.5 L547.8,743.1 L550.1,742.3 L552.5,742.0 L554.9,742.5 L557.3,743.0 L559.8,743.0" fill="none" stroke="#e0308a" stroke-width="1.9" stroke-linejoin="round"/>
</g>
<rect x="74" y="16" width="486" height="249" fill="none" stroke="#111" stroke-width="2"/>
<line x1="63" y1="254.0" x2="74" y2="254.0" stroke="#111" stroke-width="2"/>
<line x1="560" y1="254.0" x2="571" y2="254.0" stroke="#111" stroke-width="2"/>
<text x="55" y="260.8" font-size="19" text-anchor="end" font-weight="normal" font-style="normal" fill="#111" >0</text>
<line x1="63" y1="220.0" x2="74" y2="220.0" stroke="#111" stroke-width="2"/>
<line x1="560" y1="220.0" x2="571" y2="220.0" stroke="#111" stroke-width="2"/>
<text x="55" y="226.8" font-size="19" text-anchor="end" font-weight="normal" font-style="normal" fill="#111" >5</text>
<line x1="63" y1="186.0" x2="74" y2="186.0" stroke="#111" stroke-width="2"/>
<line x1="560" y1="186.0" x2="571" y2="186.0" stroke="#111" stroke-width="2"/>
<text x="55" y="192.8" font-size="19" text-anchor="end" font-weight="normal" font-style="normal" fill="#111" >10</text>
<line x1="63" y1="152.0" x2="74" y2="152.0" stroke="#111" stroke-width="2"/>
<line x1="560" y1="152.0" x2="571" y2="152.0" stroke="#111" stroke-width="2"/>
<text x="55" y="158.8" font-size="19" text-anchor="end" font-weight="normal" font-style="normal" fill="#111" >15</text>
<line x1="63" y1="118.0" x2="74" y2="118.0" stroke="#111" stroke-width="2"/>
<line x1="560" y1="118.0" x2="571" y2="118.0" stroke="#111" stroke-width="2"/>
<text x="55" y="124.8" font-size="19" text-anchor="end" font-weight="normal" font-style="normal" fill="#111" >20</text>
<line x1="63" y1="84.0" x2="74" y2="84.0" stroke="#111" stroke-width="2"/>
<line x1="560" y1="84.0" x2="571" y2="84.0" stroke="#111" stroke-width="2"/>
<text x="55" y="90.8" font-size="19" text-anchor="end" font-weight="normal" font-style="normal" fill="#111" >25</text>
<line x1="63" y1="50.0" x2="74" y2="50.0" stroke="#111" stroke-width="2"/>
<line x1="560" y1="50.0" x2="571" y2="50.0" stroke="#111" stroke-width="2"/>
<text x="55" y="56.8" font-size="19" text-anchor="end" font-weight="normal" font-style="normal" fill="#111" >30</text>
<rect x="74" y="265" width="486" height="245" fill="none" stroke="#111" stroke-width="2"/>
<line x1="63" y1="501.0" x2="74" y2="501.0" stroke="#111" stroke-width="2"/>
<line x1="560" y1="501.0" x2="571" y2="501.0" stroke="#111" stroke-width="2"/>
<text x="55" y="507.8" font-size="19" text-anchor="end" font-weight="normal" font-style="normal" fill="#111" >0</text>
<line x1="63" y1="450.2" x2="74" y2="450.2" stroke="#111" stroke-width="2"/>
<line x1="560" y1="450.2" x2="571" y2="450.2" stroke="#111" stroke-width="2"/>
<text x="55" y="457.05" font-size="19" text-anchor="end" font-weight="normal" font-style="normal" fill="#111" >2</text>
<line x1="63" y1="399.5" x2="74" y2="399.5" stroke="#111" stroke-width="2"/>
<line x1="560" y1="399.5" x2="571" y2="399.5" stroke="#111" stroke-width="2"/>
<text x="55" y="406.3" font-size="19" text-anchor="end" font-weight="normal" font-style="normal" fill="#111" >4</text>
<line x1="63" y1="348.8" x2="74" y2="348.8" stroke="#111" stroke-width="2"/>
<line x1="560" y1="348.8" x2="571" y2="348.8" stroke="#111" stroke-width="2"/>
<text x="55" y="355.55" font-size="19" text-anchor="end" font-weight="normal" font-style="normal" fill="#111" >6</text>
<line x1="63" y1="298.0" x2="74" y2="298.0" stroke="#111" stroke-width="2"/>
<line x1="560" y1="298.0" x2="571" y2="298.0" stroke="#111" stroke-width="2"/>
<text x="55" y="304.8" font-size="19" text-anchor="end" font-weight="normal" font-style="normal" fill="#111" >8</text>
<rect x="74" y="510" width="486" height="244" fill="none" stroke="#111" stroke-width="2"/>
<line x1="63" y1="748.4" x2="74" y2="748.4" stroke="#111" stroke-width="2"/>
<line x1="560" y1="748.4" x2="571" y2="748.4" stroke="#111" stroke-width="2"/>
<text x="55" y="755.1999999999999" font-size="19" text-anchor="end" font-weight="normal" font-style="normal" fill="#111" >0</text>
<line x1="63" y1="694.2" x2="74" y2="694.2" stroke="#111" stroke-width="2"/>
<line x1="560" y1="694.2" x2="571" y2="694.2" stroke="#111" stroke-width="2"/>
<text x="55" y="700.9799999999999" font-size="19" text-anchor="end" font-weight="normal" font-style="normal" fill="#111" >2</text>
<line x1="63" y1="640.0" x2="74" y2="640.0" stroke="#111" stroke-width="2"/>
<line x1="560" y1="640.0" x2="571" y2="640.0" stroke="#111" stroke-width="2"/>
<text x="55" y="646.76" font-size="19" text-anchor="end" font-weight="normal" font-style="normal" fill="#111" >4</text>
<line x1="63" y1="585.7" x2="74" y2="585.7" stroke="#111" stroke-width="2"/>
<line x1="560" y1="585.7" x2="571" y2="585.7" stroke="#111" stroke-width="2"/>
<text x="55" y="592.54" font-size="19" text-anchor="end" font-weight="normal" font-style="normal" fill="#111" >6</text>
<line x1="63" y1="531.5" x2="74" y2="531.5" stroke="#111" stroke-width="2"/>
<line x1="560" y1="531.5" x2="571" y2="531.5" stroke="#111" stroke-width="2"/>
<text x="55" y="538.3199999999999" font-size="19" text-anchor="end" font-weight="normal" font-style="normal" fill="#111" >8</text>
<line x1="119.0" y1="754" x2="119.0" y2="765" stroke="#111" stroke-width="2"/>
<text x="119.0" y="787.5" font-size="19" text-anchor="middle" font-weight="normal" font-style="normal" fill="#111" >0</text>
<line x1="207.1" y1="754" x2="207.1" y2="765" stroke="#111" stroke-width="2"/>
<text x="207.1" y="787.5" font-size="19" text-anchor="middle" font-weight="normal" font-style="normal" fill="#111" >1</text>
<line x1="295.2" y1="754" x2="295.2" y2="765" stroke="#111" stroke-width="2"/>
<text x="295.2" y="787.5" font-size="19" text-anchor="middle" font-weight="normal" font-style="normal" fill="#111" >2</text>
<line x1="383.3" y1="754" x2="383.3" y2="765" stroke="#111" stroke-width="2"/>
<text x="383.3" y="787.5" font-size="19" text-anchor="middle" font-weight="normal" font-style="normal" fill="#111" >3</text>
<line x1="471.4" y1="754" x2="471.4" y2="765" stroke="#111" stroke-width="2"/>
<text x="471.4" y="787.5" font-size="19" text-anchor="middle" font-weight="normal" font-style="normal" fill="#111" >4</text>
<text x="296" y="814" font-size="19" text-anchor="middle" font-weight="normal" font-style="normal" fill="#111" ><tspan font-style="italic">t</tspan> (μs)</text>
<rect x="412" y="25" width="137" height="154" fill="#fff" stroke="#111" stroke-width="2"/>
<text x="420" y="49" font-size="18.5" text-anchor="start" font-weight="normal" font-style="normal" fill="#111" >1.45 eV</text>
<line x1="419" y1="66" x2="459" y2="66" stroke="#e8392b" stroke-width="2"/>
<text x="467" y="72.6" font-size="18.5" text-anchor="start" font-weight="normal" font-style="normal" fill="#111" >2.14e14</text>
<line x1="419" y1="90.5" x2="459" y2="90.5" stroke="#f5a833" stroke-width="2"/>
<text x="467" y="97.1" font-size="18.5" text-anchor="start" font-weight="normal" font-style="normal" fill="#111" >1.18e14</text>
<line x1="419" y1="115" x2="459" y2="115" stroke="#3de3e0" stroke-width="2"/>
<text x="467" y="121.6" font-size="18.5" text-anchor="start" font-weight="normal" font-style="normal" fill="#111" >5.87e13</text>
<line x1="419" y1="139.5" x2="459" y2="139.5" stroke="#2040d8" stroke-width="2"/>
<text x="467" y="146.1" font-size="18.5" text-anchor="start" font-weight="normal" font-style="normal" fill="#111" >3.90e13</text>
<line x1="419" y1="164" x2="459" y2="164" stroke="#e428e8" stroke-width="2"/>
<text x="467" y="170.6" font-size="18.5" text-anchor="start" font-weight="normal" font-style="normal" fill="#111" >1.94e13</text>
<rect x="416" y="273" width="135" height="152" fill="#fff" stroke="#111" stroke-width="2"/>
<text x="424" y="295" font-size="18.5" text-anchor="start" font-weight="normal" font-style="normal" fill="#111" >1.42 eV</text>
<line x1="424" y1="313" x2="463" y2="313" stroke="#e8392b" stroke-width="2"/>
<text x="471" y="319.6" font-size="18.5" text-anchor="start" font-weight="normal" font-style="normal" fill="#111" >8.23e14</text>
<line x1="424" y1="337.5" x2="463" y2="337.5" stroke="#f5a833" stroke-width="2"/>
<text x="471" y="344.1" font-size="18.5" text-anchor="start" font-weight="normal" font-style="normal" fill="#111" >5.39e14</text>
<line x1="424" y1="361.5" x2="463" y2="361.5" stroke="#3de3e0" stroke-width="2"/>
<text x="471" y="368.1" font-size="18.5" text-anchor="start" font-weight="normal" font-style="normal" fill="#111" >2.70e14</text>
<line x1="424" y1="386" x2="463" y2="386" stroke="#2040d8" stroke-width="2"/>
<text x="471" y="392.6" font-size="18.5" text-anchor="start" font-weight="normal" font-style="normal" fill="#111" >1.50e14</text>
<line x1="424" y1="410" x2="463" y2="410" stroke="#e428e8" stroke-width="2"/>
<text x="471" y="416.6" font-size="18.5" text-anchor="start" font-weight="normal" font-style="normal" fill="#111" >7.54e13</text>
<rect x="416" y="517" width="134" height="128" fill="#fff" stroke="#111" stroke-width="2"/>
<text x="424" y="538" font-size="18.5" text-anchor="start" font-weight="normal" font-style="normal" fill="#111" >1.30 eV</text>
<line x1="424" y1="557" x2="461" y2="557" stroke="#f08a2e" stroke-width="2"/>
<text x="468" y="563.6" font-size="18.5" text-anchor="start" font-weight="normal" font-style="normal" fill="#111" >1.90e15</text>
<line x1="424" y1="581" x2="461" y2="581" stroke="#40e6e0" stroke-width="2"/>
<text x="468" y="587.6" font-size="18.5" text-anchor="start" font-weight="normal" font-style="normal" fill="#111" >9.57e14</text>
<line x1="424" y1="605" x2="461" y2="605" stroke="#6a30de" stroke-width="2"/>
<text x="468" y="611.6" font-size="18.5" text-anchor="start" font-weight="normal" font-style="normal" fill="#111" >6.31e14</text>
<line x1="424" y1="629" x2="461" y2="629" stroke="#e0308a" stroke-width="2"/>
<text x="468" y="635.6" font-size="18.5" text-anchor="start" font-weight="normal" font-style="normal" fill="#111" >3.17e14</text>
<text transform="translate(18,388) rotate(-90)" font-size="18.5" text-anchor="middle" fill="#111">Δ<tspan font-style="italic">G</tspan>/(<tspan font-style="italic">eβ</tspan><tspan font-size="13" dy="4">0</tspan><tspan font-style="italic" dy="-4">I</tspan><tspan font-size="13" dy="4">N0</tspan><tspan dy="-4">)(×10</tspan><tspan font-size="13" dy="-7">−4</tspan><tspan dy="7"> cm</tspan><tspan font-size="13" dy="-7">2</tspan><tspan dy="7"> V</tspan><tspan font-size="13" dy="-7">−1</tspan><tspan dy="7"> S</tspan><tspan font-size="13" dy="-7">−1</tspan><tspan dy="7">)</tspan></text>
<rect x="706" y="21" width="479" height="742" fill="none" stroke="#111" stroke-width="2"/>
<line x1="692" y1="32.3" x2="706" y2="32.3" stroke="#111" stroke-width="2"/>
<line x1="1185" y1="32.3" x2="1200" y2="32.3" stroke="#111" stroke-width="2"/>
<text x="682" y="38.8" font-size="18" text-anchor="end" font-weight="normal" font-style="normal" fill="#111" >0.01</text>
<line x1="698" y1="283.7" x2="706" y2="283.7" stroke="#111" stroke-width="2"/>
<line x1="1185" y1="283.7" x2="1193" y2="283.7" stroke="#111" stroke-width="2"/>
<text x="692" y="288.2" font-size="12" text-anchor="end" font-weight="normal" font-style="normal" fill="#111" >2</text>
<line x1="698" y1="220.4" x2="706" y2="220.4" stroke="#111" stroke-width="2"/>
<line x1="1185" y1="220.4" x2="1193" y2="220.4" stroke="#111" stroke-width="2"/>
<text x="692" y="224.9" font-size="12" text-anchor="end" font-weight="normal" font-style="normal" fill="#111" >3</text>
<line x1="698" y1="175.4" x2="706" y2="175.4" stroke="#111" stroke-width="2"/>
<line x1="1185" y1="175.4" x2="1193" y2="175.4" stroke="#111" stroke-width="2"/>
<text x="692" y="179.9" font-size="12" text-anchor="end" font-weight="normal" font-style="normal" fill="#111" >4</text>
<line x1="698" y1="140.6" x2="706" y2="140.6" stroke="#111" stroke-width="2"/>
<line x1="1185" y1="140.6" x2="1193" y2="140.6" stroke="#111" stroke-width="2"/>
<text x="692" y="145.1" font-size="12" text-anchor="end" font-weight="normal" font-style="normal" fill="#111" >5</text>
<line x1="698" y1="112.1" x2="706" y2="112.1" stroke="#111" stroke-width="2"/>
<line x1="1185" y1="112.1" x2="1193" y2="112.1" stroke="#111" stroke-width="2"/>
<text x="692" y="116.6" font-size="12" text-anchor="end" font-weight="normal" font-style="normal" fill="#111" >6</text>
<line x1="698" y1="88.0" x2="706" y2="88.0" stroke="#111" stroke-width="2"/>
<line x1="1185" y1="88.0" x2="1193" y2="88.0" stroke="#111" stroke-width="2"/>
<text x="692" y="92.5" font-size="12" text-anchor="end" font-weight="normal" font-style="normal" fill="#111" >7</text>
<line x1="698" y1="67.2" x2="706" y2="67.2" stroke="#111" stroke-width="2"/>
<line x1="1185" y1="67.2" x2="1193" y2="67.2" stroke="#111" stroke-width="2"/>
<text x="692" y="71.7" font-size="12" text-anchor="end" font-weight="normal" font-style="normal" fill="#111" >8</text>
<line x1="698" y1="48.8" x2="706" y2="48.8" stroke="#111" stroke-width="2"/>
<line x1="1185" y1="48.8" x2="1193" y2="48.8" stroke="#111" stroke-width="2"/>
<text x="692" y="53.3" font-size="12" text-anchor="end" font-weight="normal" font-style="normal" fill="#111" >9</text>
<line x1="692" y1="392.0" x2="706" y2="392.0" stroke="#111" stroke-width="2"/>
<line x1="1185" y1="392.0" x2="1200" y2="392.0" stroke="#111" stroke-width="2"/>
<text x="682" y="398.5" font-size="18" text-anchor="end" font-weight="normal" font-style="normal" fill="#111" >0.001</text>
<line x1="698" y1="643.4" x2="706" y2="643.4" stroke="#111" stroke-width="2"/>
<line x1="1185" y1="643.4" x2="1193" y2="643.4" stroke="#111" stroke-width="2"/>
<text x="692" y="647.9" font-size="12" text-anchor="end" font-weight="normal" font-style="normal" fill="#111" >2</text>
<line x1="698" y1="580.1" x2="706" y2="580.1" stroke="#111" stroke-width="2"/>
<line x1="1185" y1="580.1" x2="1193" y2="580.1" stroke="#111" stroke-width="2"/>
<text x="692" y="584.6" font-size="12" text-anchor="end" font-weight="normal" font-style="normal" fill="#111" >3</text>
<line x1="698" y1="535.1" x2="706" y2="535.1" stroke="#111" stroke-width="2"/>
<line x1="1185" y1="535.1" x2="1193" y2="535.1" stroke="#111" stroke-width="2"/>
<text x="692" y="539.6" font-size="12" text-anchor="end" font-weight="normal" font-style="normal" fill="#111" >4</text>
<line x1="698" y1="500.3" x2="706" y2="500.3" stroke="#111" stroke-width="2"/>
<line x1="1185" y1="500.3" x2="1193" y2="500.3" stroke="#111" stroke-width="2"/>
<text x="692" y="504.8" font-size="12" text-anchor="end" font-weight="normal" font-style="normal" fill="#111" >5</text>
<line x1="698" y1="471.8" x2="706" y2="471.8" stroke="#111" stroke-width="2"/>
<line x1="1185" y1="471.8" x2="1193" y2="471.8" stroke="#111" stroke-width="2"/>
<text x="692" y="476.3" font-size="12" text-anchor="end" font-weight="normal" font-style="normal" fill="#111" >6</text>
<line x1="698" y1="447.7" x2="706" y2="447.7" stroke="#111" stroke-width="2"/>
<line x1="1185" y1="447.7" x2="1193" y2="447.7" stroke="#111" stroke-width="2"/>
<text x="692" y="452.2" font-size="12" text-anchor="end" font-weight="normal" font-style="normal" fill="#111" >7</text>
<line x1="698" y1="426.9" x2="706" y2="426.9" stroke="#111" stroke-width="2"/>
<line x1="1185" y1="426.9" x2="1193" y2="426.9" stroke="#111" stroke-width="2"/>
<text x="692" y="431.4" font-size="12" text-anchor="end" font-weight="normal" font-style="normal" fill="#111" >8</text>
<line x1="698" y1="408.5" x2="706" y2="408.5" stroke="#111" stroke-width="2"/>
<line x1="1185" y1="408.5" x2="1193" y2="408.5" stroke="#111" stroke-width="2"/>
<text x="692" y="413.0" font-size="12" text-anchor="end" font-weight="normal" font-style="normal" fill="#111" >9</text>
<line x1="692" y1="751.7" x2="706" y2="751.7" stroke="#111" stroke-width="2"/>
<line x1="1185" y1="751.7" x2="1200" y2="751.7" stroke="#111" stroke-width="2"/>
<text x="682" y="758.2" font-size="18" text-anchor="end" font-weight="normal" font-style="normal" fill="#111" >0.0001</text>
<line x1="742.5" y1="763" x2="742.5" y2="771" stroke="#111" stroke-width="2"/>
<line x1="742.5" y1="21" x2="742.5" y2="13" stroke="#111" stroke-width="2"/>
<text x="742.5" y="789" font-size="12" text-anchor="middle" font-weight="normal" font-style="normal" fill="#111" >2</text>
<line x1="778.8" y1="763" x2="778.8" y2="771" stroke="#111" stroke-width="2"/>
<line x1="778.8" y1="21" x2="778.8" y2="13" stroke="#111" stroke-width="2"/>
<text x="778.8" y="789" font-size="12" text-anchor="middle" font-weight="normal" font-style="normal" fill="#111" >3</text>
<line x1="804.5" y1="763" x2="804.5" y2="771" stroke="#111" stroke-width="2"/>
<line x1="804.5" y1="21" x2="804.5" y2="13" stroke="#111" stroke-width="2"/>
<text x="804.5" y="789" font-size="12" text-anchor="middle" font-weight="normal" font-style="normal" fill="#111" >4</text>
<line x1="824.5" y1="763" x2="824.5" y2="771" stroke="#111" stroke-width="2"/>
<line x1="824.5" y1="21" x2="824.5" y2="13" stroke="#111" stroke-width="2"/>
<text x="824.5" y="789" font-size="12" text-anchor="middle" font-weight="normal" font-style="normal" fill="#111" >5</text>
<line x1="840.9" y1="763" x2="840.9" y2="771" stroke="#111" stroke-width="2"/>
<line x1="840.9" y1="21" x2="840.9" y2="13" stroke="#111" stroke-width="2"/>
<text x="840.9" y="789" font-size="12" text-anchor="middle" font-weight="normal" font-style="normal" fill="#111" >6</text>
<line x1="854.7" y1="763" x2="854.7" y2="771" stroke="#111" stroke-width="2"/>
<line x1="854.7" y1="21" x2="854.7" y2="13" stroke="#111" stroke-width="2"/>
<line x1="866.6" y1="763" x2="866.6" y2="771" stroke="#111" stroke-width="2"/>
<line x1="866.6" y1="21" x2="866.6" y2="13" stroke="#111" stroke-width="2"/>
<line x1="877.2" y1="763" x2="877.2" y2="771" stroke="#111" stroke-width="2"/>
<line x1="877.2" y1="21" x2="877.2" y2="13" stroke="#111" stroke-width="2"/>
<line x1="886.6" y1="763" x2="886.6" y2="778.5" stroke="#111" stroke-width="2"/>
<line x1="886.6" y1="21" x2="886.6" y2="9" stroke="#111" stroke-width="2"/>
<text x="870.6" y="804.5" font-size="18" fill="#111">10<tspan font-size="13" dy="-9">14</tspan></text>
<line x1="948.7" y1="763" x2="948.7" y2="771" stroke="#111" stroke-width="2"/>
<line x1="948.7" y1="21" x2="948.7" y2="13" stroke="#111" stroke-width="2"/>
<text x="948.7" y="789" font-size="12" text-anchor="middle" font-weight="normal" font-style="normal" fill="#111" >2</text>
<line x1="985.0" y1="763" x2="985.0" y2="771" stroke="#111" stroke-width="2"/>
<line x1="985.0" y1="21" x2="985.0" y2="13" stroke="#111" stroke-width="2"/>
<text x="985.0" y="789" font-size="12" text-anchor="middle" font-weight="normal" font-style="normal" fill="#111" >3</text>
<line x1="1010.7" y1="763" x2="1010.7" y2="771" stroke="#111" stroke-width="2"/>
<line x1="1010.7" y1="21" x2="1010.7" y2="13" stroke="#111" stroke-width="2"/>
<text x="1010.7" y="789" font-size="12" text-anchor="middle" font-weight="normal" font-style="normal" fill="#111" >4</text>
<line x1="1030.7" y1="763" x2="1030.7" y2="771" stroke="#111" stroke-width="2"/>
<line x1="1030.7" y1="21" x2="1030.7" y2="13" stroke="#111" stroke-width="2"/>
<text x="1030.7" y="789" font-size="12" text-anchor="middle" font-weight="normal" font-style="normal" fill="#111" >5</text>
<line x1="1047.1" y1="763" x2="1047.1" y2="771" stroke="#111" stroke-width="2"/>
<line x1="1047.1" y1="21" x2="1047.1" y2="13" stroke="#111" stroke-width="2"/>
<text x="1047.1" y="789" font-size="12" text-anchor="middle" font-weight="normal" font-style="normal" fill="#111" >6</text>
<line x1="1060.9" y1="763" x2="1060.9" y2="771" stroke="#111" stroke-width="2"/>
<line x1="1060.9" y1="21" x2="1060.9" y2="13" stroke="#111" stroke-width="2"/>
<line x1="1072.8" y1="763" x2="1072.8" y2="771" stroke="#111" stroke-width="2"/>
<line x1="1072.8" y1="21" x2="1072.8" y2="13" stroke="#111" stroke-width="2"/>
<line x1="1083.4" y1="763" x2="1083.4" y2="771" stroke="#111" stroke-width="2"/>
<line x1="1083.4" y1="21" x2="1083.4" y2="13" stroke="#111" stroke-width="2"/>
<line x1="1092.8" y1="763" x2="1092.8" y2="778.5" stroke="#111" stroke-width="2"/>
<line x1="1092.8" y1="21" x2="1092.8" y2="9" stroke="#111" stroke-width="2"/>
<text x="1076.8" y="804.5" font-size="18" fill="#111">10<tspan font-size="13" dy="-9">15</tspan></text>
<line x1="1154.9" y1="763" x2="1154.9" y2="771" stroke="#111" stroke-width="2"/>
<line x1="1154.9" y1="21" x2="1154.9" y2="13" stroke="#111" stroke-width="2"/>
<text x="1154.9" y="789" font-size="12" text-anchor="middle" font-weight="normal" font-style="normal" fill="#111" >2</text>
<polyline points="739.7,208.3 802.3,204.4 838.9,202.5 901.4,201.75 954.7,199.4" fill="none" stroke="#0dbd0d" stroke-width="2"/>
<polyline points="861.3,516.8 922.9,516.8 975.5,488.3 1037.5,440.2 1075.4,404.7" fill="none" stroke="#f7b53c" stroke-width="2"/>
<polyline points="989.9,681.5 1051.6,575.4 1088.9,514.9 1150.3,413.2" fill="none" stroke="#f50d0d" stroke-width="2"/>
<polygon points="739.7,196.8 729.7,214.6 749.7,214.6" fill="#0dbd0d"/>
<polygon points="802.3,192.9 792.3,210.7 812.3,210.7" fill="#0dbd0d"/>
<polygon points="838.9,191.0 828.9,208.8 848.9,208.8" fill="#0dbd0d"/>
<polygon points="901.4,190.2 891.4,208.1 911.4,208.1" fill="#0dbd0d"/>
<polygon points="954.7,187.9 944.7,205.7 964.7,205.7" fill="#0dbd0d"/>
<polygon points="861.3,505.3 872.8,516.8 861.3,528.3 849.8,516.8" fill="#f7b53c"/>
<polygon points="922.9,505.3 934.4,516.8 922.9,528.3 911.4,516.8" fill="#f7b53c"/>
<polygon points="975.5,476.8 987.0,488.3 975.5,499.8 964.0,488.3" fill="#f7b53c"/>
<polygon points="1037.5,428.7 1049.0,440.2 1037.5,451.7 1026.0,440.2" fill="#f7b53c"/>
<polygon points="1075.4,393.2 1086.9,404.7 1075.4,416.2 1063.9,404.7" fill="#f7b53c"/>
<circle cx="989.9" cy="681.5" r="8.4" fill="#f50d0d"/>
<circle cx="1051.6" cy="575.4" r="8.4" fill="#f50d0d"/>
<circle cx="1088.9" cy="514.9" r="8.4" fill="#f50d0d"/>
<circle cx="1150.3" cy="413.2" r="8.4" fill="#f50d0d"/>
<rect x="740" y="43" width="145" height="93" fill="#fff" stroke="#111" stroke-width="2"/>
<line x1="748" y1="62" x2="791" y2="62" stroke="#0dbd0d" stroke-width="1.8"/>
<polygon points="769.7,52.3 761.3,67.8 778.1,67.8" fill="#0dbd0d"/>
<text x="800" y="68.2" font-size="18" text-anchor="start" font-weight="normal" font-style="normal" fill="#111" >1.45 eV</text>
<line x1="748" y1="90.4" x2="791" y2="90.4" stroke="#f7b53c" stroke-width="1.8"/>
<polygon points="769.7,80.4 779.7,90.4 769.7,100.4 759.7,90.4" fill="#f7b53c"/>
<text x="800" y="96.6" font-size="18" text-anchor="start" font-weight="normal" font-style="normal" fill="#111" >1.42 eV</text>
<line x1="748" y1="118.6" x2="791" y2="118.6" stroke="#f50d0d" stroke-width="1.8"/>
<circle cx="769.9" cy="118.6" r="7.2" fill="#f50d0d"/>
<text x="800" y="124.8" font-size="18" text-anchor="start" font-weight="normal" font-style="normal" fill="#111" >1.30 eV</text>
<text transform="translate(625,390) rotate(-90)" font-size="18.4" text-anchor="middle" fill="#111">Δ<tspan font-style="italic">G</tspan><tspan font-size="12" dy="4">max</tspan><tspan dy="-4">/(</tspan><tspan font-style="italic">eβ</tspan><tspan font-size="12" dy="4">0</tspan><tspan font-style="italic" dy="-4">I</tspan><tspan font-size="12" dy="4">N0</tspan><tspan dy="-4">)(cm</tspan><tspan font-size="12" dy="-7">2</tspan><tspan dy="7"> V</tspan><tspan font-size="12" dy="-7">−1</tspan><tspan dy="7"> S</tspan><tspan font-size="12" dy="-7">−1</tspan><tspan dy="7">)</tspan></text>
<text x="945" y="836" font-size="19" text-anchor="middle" fill="#111"><tspan font-style="italic">I</tspan><tspan font-size="13.5" dy="4">N0</tspan><tspan dy="-4">(cm</tspan><tspan font-size="13.5" dy="-8">−2</tspan><tspan dy="8">)</tspan></text>
<text x="0" y="20" font-size="26" text-anchor="start" font-weight="bold" font-style="normal" fill="#000" >a</text>
<text x="603" y="20" font-size="26" text-anchor="start" font-weight="bold" font-style="normal" fill="#000" >b</text>
<text x="131" y="893.5" font-size="26.5" text-anchor="start" font-weight="bold" font-style="normal" fill="#000" >c</text>
<text x="712.7" y="893" font-size="26" text-anchor="start" font-weight="bold" font-style="normal" fill="#000" >d</text>
<line x1="206" y1="912.5" x2="466" y2="912.5" stroke="#f5141a" stroke-width="5"/>
<line x1="206" y1="927.5" x2="466" y2="927.5" stroke="#f5141a" stroke-width="5"/>
<line x1="206" y1="999" x2="466" y2="999" stroke="#f5141a" stroke-width="5"/>
<line x1="305.6" y1="941" x2="305.6" y2="988" stroke="#4f81bd" stroke-width="5.5"/>
<polygon points="305.6,929 298.1,943.5 313.1,943.5" fill="#4f81bd"/>
<polygon points="305.6,1000 298.1,985.5 313.1,985.5" fill="#4f81bd"/>
<text x="197.6" y="928.5" font-size="19" text-anchor="end" font-weight="normal" font-style="normal" fill="#111" >HE, LE</text>
<text x="197.6" y="1006.5" font-size="19" text-anchor="end" font-weight="normal" font-style="normal" fill="#111" >SO</text>
<text x="323" y="1023.5" font-size="19" text-anchor="middle" font-weight="normal" font-style="normal" fill="#111" >CBM</text>
<text x="328" y="973" font-size="18" fill="#111">Δ<tspan font-size="13" dy="5">SO</tspan></text>
<text x="468.5" y="1023" font-size="18.3" fill="#111">E<tspan font-size="14" dy="4.5">2</tspan></text>
<text x="168.5" y="1085.5" font-size="19" font-style="italic" fill="#111" font-family="Liberation Serif, serif">ħω</text>
<path d="M147.3,1141.3 C149.54,1129.30 153.87,1110.00 157.13,1110.00 C161.22,1110.00 163.80,1138.30 167.88,1138.30 C171.87,1138.30 174.39,1110.00 178.38,1110.00 C182.37,1110.00 184.89,1138.30 188.88,1138.30 C192.82,1138.30 195.32,1110.00 199.27,1110.00 C202.12,1110.00 204.36,1119.30 205.38,1124.30 L236.97,1124.30" fill="none" stroke="#f5141a" stroke-width="4.5" stroke-linejoin="miter" stroke-linecap="butt"/>
<polygon points="234.93,1117.10 249.20,1124.30 234.93,1131.50" fill="#f5141a"/>
<line x1="206" y1="1173.3" x2="466" y2="1173.3" stroke="#00aeef" stroke-width="5"/>
<text x="328.3" y="1159.5" font-size="19" text-anchor="middle" font-weight="normal" font-style="normal" fill="#111" >VBM</text>
<text x="468.5" y="1194" font-size="18.3" fill="#111">E<tspan font-size="14" dy="4.5">2</tspan></text>
<line x1="387.5" y1="1074" x2="455.5" y2="1074" stroke="#000" stroke-width="5.5"/>
<line x1="423" y1="1173" x2="423" y2="1086" stroke="#00a650" stroke-width="4.5"/>
<polygon points="423,1075 415.5,1089 430.5,1089" fill="#00a650"/>
<text x="460" y="1081" font-size="18.6" text-anchor="start" font-weight="normal" font-style="normal" fill="#111" >Sub-bandgap levels</text>
<line x1="782.5" y1="915.5" x2="1037" y2="915.5" stroke="#f5141a" stroke-width="5"/>
<line x1="782.5" y1="927.7" x2="1037" y2="927.7" stroke="#f5141a" stroke-width="5"/>
<line x1="782.5" y1="999.7" x2="1037" y2="999.7" stroke="#f5141a" stroke-width="5"/>
<line x1="882.6" y1="943" x2="882.6" y2="988" stroke="#4f81bd" stroke-width="5.5"/>
<polygon points="882.6,931 875.1,945.5 890.1,945.5" fill="#4f81bd"/>
<polygon points="882.6,1000 875.1,985.5 890.1,985.5" fill="#4f81bd"/>
<text x="775.6" y="928.5" font-size="19" text-anchor="end" font-weight="normal" font-style="normal" fill="#111" >HE, LE</text>
<text x="775.6" y="1006.5" font-size="19" text-anchor="end" font-weight="normal" font-style="normal" fill="#111" >SO</text>
<text x="898" y="1023.5" font-size="19" text-anchor="middle" font-weight="normal" font-style="normal" fill="#111" >CBM</text>
<text x="898" y="973" font-size="18" fill="#111">Δ<tspan font-size="13" dy="5">SO</tspan></text>
<text x="1037" y="901" font-size="18.3" fill="#111">E<tspan font-size="14" dy="4.5">S</tspan></text>
<text x="1037" y="1024" font-size="18.3" fill="#111">E<tspan font-size="14" dy="4.5">2</tspan></text>
<text x="1037" y="1192" font-size="18.3" fill="#111">E<tspan font-size="14" dy="4.5">1</tspan></text>
<path d="M726.4,1061.3 C728.56,1049.30 732.73,1030.00 735.88,1030.00 C739.81,1030.00 742.30,1058.30 746.24,1058.30 C750.08,1058.30 752.51,1030.00 756.35,1030.00 C760.19,1030.00 762.62,1058.30 766.47,1058.30 C770.27,1058.30 772.68,1030.00 776.48,1030.00 C779.23,1030.00 781.39,1039.30 782.37,1044.30 L812.82,1044.30" fill="none" stroke="#f5141a" stroke-width="4.5" stroke-linejoin="miter" stroke-linecap="butt"/>
<polygon points="810.85,1037.10 824.60,1044.30 810.85,1051.50" fill="#f5141a"/>
<path d="M726.4,1163 C728.56,1151.00 732.73,1131.70 735.88,1131.70 C739.81,1131.70 742.30,1160.00 746.24,1160.00 C750.08,1160.00 752.51,1131.70 756.35,1131.70 C760.19,1131.70 762.62,1160.00 766.47,1160.00 C770.27,1160.00 772.68,1131.70 776.48,1131.70 C779.23,1131.70 781.39,1141.00 782.37,1146.00 L812.82,1146.00" fill="none" stroke="#f5141a" stroke-width="4.5" stroke-linejoin="miter" stroke-linecap="butt"/>
<polygon points="810.85,1138.80 824.60,1146.00 810.85,1153.20" fill="#f5141a"/>
<text x="745.5" y="1118.5" font-size="19" font-style="italic" fill="#111" font-family="Liberation Serif, serif">ħω</text>
<line x1="783" y1="1170" x2="1037.5" y2="1170" stroke="#00aeef" stroke-width="5"/>
<text x="904" y="1157.5" font-size="19" text-anchor="middle" font-weight="normal" font-style="normal" fill="#111" >VBM</text>
<path d="M1049,929 C1075,945 1090,965 1066,988 L1058,996" fill="none" stroke="#00aeef" stroke-width="3.5" stroke-dasharray="3.5,3.5"/>
<polygon points="1051,1002 1055,987 1066,996" fill="#00aeef"/>
<path d="M1055,1170 C1110,1130 1172,1090 1169,1032 C1167,985 1120,955 1075,925" fill="none" stroke="#00a650" stroke-width="5.5" stroke-dasharray="12,6"/>
<polygon points="1061.5,915.5 1077.5,918.5 1068.5,930" fill="#00a650"/>
</svg>
</body></html>
